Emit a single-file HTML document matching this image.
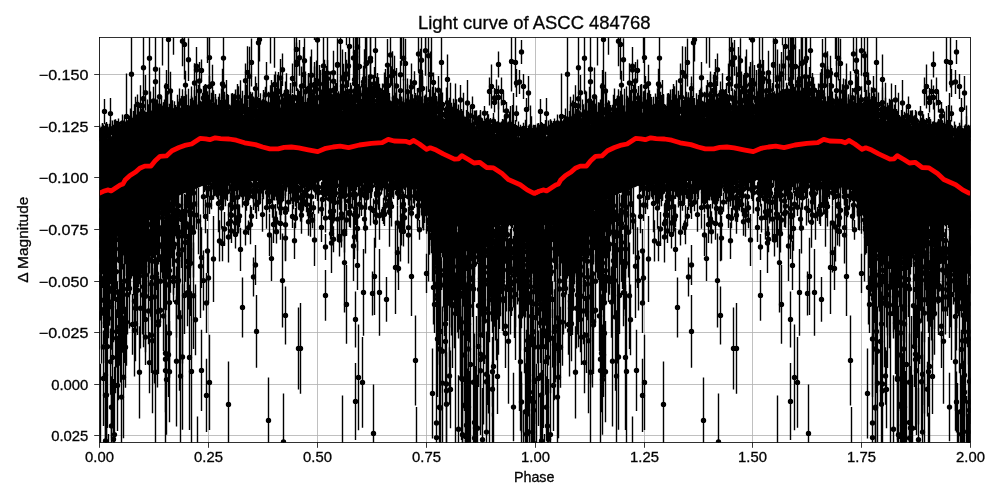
<!DOCTYPE html>
<html><head><meta charset="utf-8"><title>Light curve of ASCC 484768</title>
<style>
html,body{margin:0;padding:0;background:#fff;}
body{width:1000px;height:500px;overflow:hidden;font-family:"Liberation Sans",sans-serif;}
svg{display:block;}
text{font-family:"Liberation Sans",sans-serif;fill:#000;stroke:#000;stroke-width:0.3px;}
</style></head><body>
<svg width="1000" height="500" viewBox="0 0 1000 500">
<rect width="1000" height="500" fill="#fff"/>
<defs>
<clipPath id="ax"><rect x="99.5" y="37.5" width="871" height="405"/></clipPath>
<path id="pol" d="M97 139 99.5 139 102 138.8 104.5 138.5 107 138.3 109.5 138 112 137.6 114.5 137.1 117 136.6 119.5 136.1 122 135.6 124.5 135.1 127 134.6 129.5 134.1 132 133.6 134.5 133.1 137 132.5 139.5 131.9 142 131.3 144.5 130.7 147 130.1 149.5 129.5 152 128.9 154.5 128.3 157 127.7 159.5 127.1 162 126.7 164.5 126.2 167 125.8 169.5 125.3 172 124.9 174.5 124.5 177 124 179.5 123.6 182 123.2 184.5 122.7 187 122.3 189.5 121.8 192 121.4 194.5 121 197 120.5 199.5 120.1 202 119.9 204.5 119.9 207 119.8 209.5 119.7 212 119.6 214.5 119.6 217 119.5 219.5 119.4 222 119.3 224.5 119.3 227 119.2 229.5 119.1 232 119 234.5 119 237 118.9 239.5 118.8 242 118.7 244.5 118.7 247 118.6 249.5 118.5 252 118.4 254.5 118.4 257 118.3 259.5 118.2 262 118.1 264.5 118.1 267 118 269.5 117.9 272 117.8 274.5 117.8 277 117.7 279.5 117.6 282 117.5 284.5 117.5 287 117.4 289.5 117.3 292 117.2 294.5 117.2 297 117.1 299.5 117 302 116.9 304.5 116.8 307 116.8 309.5 116.7 312 116.6 314.5 116.5 317 116.4 319.5 116.3 322 116.3 324.5 116.2 327 116.1 329.5 116 332 115.9 334.5 115.8 337 115.8 339.5 115.7 342 115.6 344.5 115.5 347 115.4 349.5 115.3 352 115.3 354.5 115.2 357 115.1 359.5 115 362 115 364.5 114.9 367 114.9 369.5 114.8 372 114.8 374.5 114.8 377 114.7 379.5 114.7 382 114.6 384.5 114.6 387 114.5 389.5 114.5 392 114.5 394.5 114.4 397 114.4 399.5 114.3 402 114.3 404.5 114.3 407 114.2 409.5 114.2 412 114.1 414.5 114.1 417 114 419.5 114 422 114.3 424.5 114.7 427 115 429.5 115.4 432 115.8 434.5 116.2 437 116.5 439.5 116.9 442 117.7 444.5 118.6 447 119.5 449.5 120.3 452 121.2 454.5 122.1 457 123 459.5 123.8 462 124.6 464.5 125.3 467 126.1 469.5 126.8 472 127.6 474.5 128.3 477 129.1 479.5 129.8 482 130.5 484.5 131.1 487 131.8 489.5 132.4 492 133 494.5 133.6 497 134.2 499.5 134.9 502 135.2 504.5 135.5 507 135.8 509.5 136.1 512 136.4 514.5 136.7 517 136.9 519.5 137.2 522 137.5 524.5 137.8 527 138.1 529.5 138.4 532 138.7 534.5 138.9 537 139 L537 225 534.5 225 532 225 529.5 225 527 225 524.5 225 522 225 519.5 225 517 225 514.5 225 512 225 509.5 225 507 225 504.5 225 502 225 499.5 225 497 225 494.5 225 492 225 489.5 225 487 225 484.5 225 482 225 479.5 225 477 225 474.5 225 472 225 469.5 225 467 225 464.5 225 462 225 459.5 225 457 225 454.5 225 452 225 449.5 225 447 225 444.5 225 442 225 439.5 225 437 225 434.5 225 432 225 429.5 220 427 215 424.5 207.5 422 200 419.5 193.5 417 187 414.5 184 412 181 409.5 181 407 181 404.5 180.9 402 180.9 399.5 180.9 397 180.9 394.5 180.8 392 180.8 389.5 180.8 387 180.8 384.5 180.8 382 180.7 379.5 180.7 377 180.7 374.5 180.7 372 180.6 369.5 180.6 367 180.6 364.5 180.6 362 180.6 359.5 180.5 357 180.5 354.5 180.5 352 180.5 349.5 180.4 347 180.4 344.5 180.4 342 180.4 339.5 180.4 337 180.3 334.5 180.3 332 180.3 329.5 180.3 327 180.2 324.5 180.2 322 180.2 319.5 180.2 317 180.2 314.5 180.1 312 180.1 309.5 180.1 307 180.1 304.5 180 302 180 299.5 180 297 180.1 294.5 180.1 292 180.2 289.5 180.2 287 180.3 284.5 180.3 282 180.4 279.5 180.5 277 180.5 274.5 180.6 272 180.6 269.5 180.7 267 180.7 264.5 180.8 262 180.8 259.5 180.9 257 181 254.5 181 252 181.1 249.5 181.1 247 181.2 244.5 181.2 242 181.3 239.5 181.3 237 181.4 234.5 181.5 232 181.5 229.5 181.6 227 181.6 224.5 181.7 222 181.7 219.5 181.8 217 181.8 214.5 181.9 212 182 209.5 182.2 207 183.5 204.5 184.8 202 186 199.5 187.2 197 188.2 194.5 189.2 192 190.2 189.5 191.2 187 192.2 184.5 193.2 182 194.2 179.5 195.3 177 196.8 174.5 198.3 172 199.8 169.5 201.4 167 203.4 164.5 205.4 162 207.4 159.5 209.6 157 212.3 154.5 215.1 152 217.8 149.5 220.2 147 221.5 144.5 222.8 142 224 139.5 225 137 225 134.5 225 132 225 129.5 225 127 225 124.5 225 122 225 119.5 225 117 225 114.5 225 112 225 109.5 225 107 225 104.5 225 102 225 99.5 225 97 225Z" fill="#000"/>
<g id="c0" fill="none" stroke="#000"><path d="M207.5 229V273M213.5 216V302M203.5 250.6V310.6M208.5 253V303M240.5 227.8V271M253.5 257.5V296.5M242.5 277.4V337.4M256.5 295V367.8M271.5 236.2V281M282.5 233.6V327.6M285.5 286.4V344.4M298.5 307.4V389.4M325.5 234V260M325.5 270V320.8M344.5 212.6V312.6M357.5 240.8V290M346.5 265V343.8M355.5 291.4V347.4M372.5 271.4V315.4M374.5 237.8V315M379.5 249V335.8M386.5 277.1V321.7M397.5 232.6V272.6M395.5 220.8V314M411.5 236.8V316M426.5 253.8V293M433.5 250.4V324.4M434.5 275.8V333M353.5 211V281M201.5 329.8V411M209.5 334.8V430M228.5 361.4V445.5M268.5 377.4V445.5M283.5 393.4V445.5M197.5 416.4V445.5M342.5 395.4V445.5M362.5 337V427.8M355.5 362.9V439.9M373.5 384.4V445.5M415.5 315.4V405.4M432.5 348.4V438.4M416.5 407V445.5M441.5 37.4V87.4M447.5 54.4V104.4M460.5 85V115M467.5 80V126M498.5 51.4V77.4M511.5 34.5V91.4M515.5 37.4V87.4M521.5 40V64M489.5 77.4V105.4M491.5 64.4V108.4M496.5 79.4V103.4M501.5 77.4V105.4M494.5 88V108M498.5 85.4V109.4M494.5 92.4V112.4M503.5 92.4V112.4M506.5 102V120M506.5 108V124M516.5 69V97M516.5 105.6V121.6M526.5 100.4V118.4M126.5 73.4V159.4M194.5 63.2V102.8M200.5 103.3V126.5M418.5 36.9V70.9M362.5 97V120.2M414.5 113.3V130.9M246.5 85.1V109.1M342.5 69.3V102.9M316.5 101.1V116.8M300.5 117.4V132.1M428.5 106.7V123.8M268.5 119.8V133.1M374.5 67.1V100.5M309.5 86.9V112.4M344.5 111V119M294.5 62.6V105.5M155.5 54.3V109M209.5 117.6V137.3M430.5 51.4V97.5M317.5 115.7V131.5M138.5 104.1V136.5M230.5 111.1V125.7M177.5 119.6V138.8M206.5 122.1V132.9M190.5 116.3V132.5M299.5 39.9V75.7M173.5 34.5V54.8M296.5 34.5V79.1M314.5 103.2V125.5M192.5 112.6V125.3M214.5 118.3V129M355.5 88V110.7M421.5 34.5V89.8M386.5 84.2V109.2M428.5 117V127.6M314.5 85V110.9M348.5 45.1V87M383.5 112.3V126.6M377.5 96V113M439.5 118.1V135.7M349.5 103.6V119.4M331.5 105.8V133.3M292.5 101.6V118.5M390.5 34.5V84.6M323.5 94.2V116M366.5 36.6V90.5M364.5 105.6V122.7M379.5 95V112.3M360.5 105.4V122.8M296.5 34.5V90.9M438.5 108.8V131.6M358.5 117.4V129.8M363.5 65.7V98.2M373.5 75.1V104.6M353.5 88.6V117.1M340.5 34.5V82M314.5 34.5V39.9M188.5 38.3V81M404.5 108.8V130.8M395.5 92.7V108.2M298.5 111.5V129.4M359.5 99.3V112.8M218.5 101.4V129.9M327.5 37.2V109M372.5 112.2V132.7M377.5 73.9V105.5M397.5 108.9V119.3M282.5 93.9V126.3M308.5 114.7V131.4M170.5 71.8V110.2M251.5 93.8V123M293.5 99.2V122.3M438.5 76.1V104.5M203.5 86.1V109.9M298.5 116.7V132M426.5 100V117.8M375.5 34.5V78M367.5 87.3V122.6M194.5 117.9V132.7M355.5 34.5V80.3M321.5 116V126.7M158.5 114.2V136.3M369.5 96.9V112.8M321.5 107.9V129.1M162.5 34.5V65.5M247.5 46.2V98.7M435.5 118.3V135M170.5 120.9V140.1M287.5 115V127.8M318.5 114.6V134.4M413.5 100.2V117.3M274.5 34.5V67.8M215.5 94.1V122.1M149.5 34.5V51.8M389.5 106.5V126.5M314.5 100.5V123.1M411.5 63.6V110.1M358.5 83.9V118.2M433.5 111.2V133.6M282.5 53.5V86.1M433.5 72.5V92.5M202.5 116.3V129.5M276.5 88.5V110.6M408.5 106.9V130.8M367.5 92.7V112.8M365.5 95.2V119.7M144.5 122.1V145.2M212.5 121.8V132.7M182.5 96.9V125.1M319.5 65.1V102.7M335.5 79.6V111.9M189.5 124.2V137.1M328.5 93V118.8M157.5 100.8V120.8M275.5 94.7V132.5M303.5 47.1V102.1M253.5 119.7V133.3M281.5 121.3V133.1M405.5 38.8V87.9M370.5 34.5V91.5M267.5 115V126.7M426.5 86.2V113.3M240.5 118.6V133.6M362.5 113.3V121.5M223.5 110.2V125.3M196.5 113.6V131M253.5 96.5V109.9M175.5 114.4V135.4M155.5 36.2V102.2M355.5 87.1V105.8M292.5 109.1V125.5M292.5 103.2V122.6M285.5 81.4V107.9M209.5 90.6V117M247.5 103.5V115.4M400.5 34.5V58.9M387.5 39V91.2M163.5 119.9V142.8M256.5 83.1V115.7M394.5 103.8V132.8M428.5 104.3V125.9M147.5 126.5V147.6M366.5 116.5V125.7M275.5 71.4V98.4M304.5 107.6V132.8M303.5 119.8V134.9M396.5 67.9V103.8M259.5 34.5V61.5M234.5 97.2V112.9M206.5 111.9V123.2M165.5 118.7V139.2M151.5 130.1V148M299.5 112.8V131.6M316.5 109V132.7M353.5 35.8V80M423.5 108.8V134.2M189.5 113.3V131.1M242.5 122.2V134.1M255.5 107.6V123.1M323.5 88V142.2M226.5 95.3V114.6M357.5 95.8V116.5M333.5 58.2V104.4M401.5 97.3V116.6M143.5 132V151.5M376.5 76.7V105.7M311.5 110.5V127.3M311.5 49.5V100.9M221.5 102.2V113.7M370.5 71.5V108.6M398.5 108V119.7M317.5 34.5V81.5M287.5 89.4V112.3M159.5 67.4V126.3M263.5 120.4V136.8M200.5 107.6V125.2M149.5 34.5V94.3M129.5 115.8V147.9M342.5 49.6V105.7M333.5 88.3V109.3M431.5 113.2V135.6M346.5 59.8V88.2M290.5 108.6V123.7M294.5 119.7V133.5M213.5 95.3V118.7M167.5 94.4V125.1M266.5 61.9V93.7M151.5 127.8V144.4M357.5 35.2V100M321.5 118.4V132.8M150.5 121.6V139.9M292.5 93.7V115M392.5 51.2V92.4M274.5 106.8V126.2M140.5 119.5V146.4M350.5 110V121.3M314.5 66.5V115.9M355.5 34.5V83.7M321.5 117.8V132.7M379.5 83.8V96.8M173.5 112.1V127.6M394.5 100.8V121.4M156.5 99.5V126.2M294.5 34.5V64.9M322.5 100.9V116.7M231.5 113V134M215.5 102.9V121.5M373.5 76.8V111.7M377.5 107V125.1M310.5 56.6V115M364.5 49.3V107.8M230.5 108.4V122M401.5 34.5V65.7M229.5 109.7V124.8M235.5 120V138M308.5 75V101.9M143.5 84.7V112.8M360.5 117.8V131.8M199.5 80.1V101.7M287.5 90.7V110.1M294.5 100.3V117.1M145.5 74.9V110.5M344.5 101.6V125.6M256.5 91.1V110.6M430.5 114.2V127.8M241.5 99.9V115.3M341.5 114.4V130.4M322.5 108.5V124M325.5 73.3V112.3M280.5 59V96.8M258.5 34.5V97.4M333.5 50.8V94.7M326.5 73.8V112.1M316.5 100.3V131.6M363.5 75V96M370.5 90.9V114M356.5 35.1V96M245.5 63.6V98M417.5 95.6V115.4M143.5 101.7V130.9M301.5 66.4V105.7M424.5 101.2V113.8M370.5 52.9V100.8M370.5 95.7V122.8M403.5 106.2V116.9M355.5 34.5V95.8M365.5 115V130.3M146.5 120.2V147.6M418.5 116.7V129.5M354.5 93.7V120.7M281.5 80.7V123.1M178.5 111.1V132.1M403.5 36V80.5M400.5 110V133.5M419.5 98.8V117M253.5 100.6V116.8M276.5 109.6V124M154.5 107.5V127.5M363.5 87.6V114.9M146.5 132.9V146M295.5 102.9V122.6M414.5 112.9V128.9M383.5 110.7V125.6M306.5 106.5V127M190.5 111.6V131.4M143.5 34.5V116.3M321.5 89.6V107.6M184.5 106.4V123.9M140.5 85.3V125.4M168.5 34.5V94.5M209.5 34.5V83.4M380.5 96.4V107.5M147.5 99.6V130.5M156.5 120.9V136.3M213.5 101.2V115M303.5 116V130.7M240.5 106V122.3M265.5 106.3V132M392.5 105.3V125.4M480.5 109.9V130.2M103.5 129.8V140.9M222.5 100V126M534.5 125.8V141.2M327.5 106V126.3M307.5 100.3V117.8M359.5 96.9V118.7M344.5 101.2V116.3M453.5 105.3V128.3M351.5 95.8V124.8M211.5 111.8V128.3M485.5 119.2V132.2M117.5 124.9V140.5M328.5 104.9V133.7M503.5 119.9V134.1M387.5 101.5V121.3M218.5 111.7V133M369.5 103.7V121.3M520.5 124.8V140.1M122.5 125.5V139.2M219.5 103.7V126.4M110.5 119.9V137.9M177.5 104.8V126.8M530.5 136.2V149.2M344.5 106.9V126M205.5 101.9V127.2M287.5 92.6V115.1M163.5 105.3V134.5M150.5 113.1V140.9M201.5 101.4V116M117.5 122.8V135.4M145.5 111.4V138.3M252.5 103.8V118.5M279.5 108.5V130.8M237.5 105V126.4M283.5 105.2V124M203.5 104.8V121.6M283.5 97.6V116.2M424.5 99.4V124M344.5 100.9V116.1M334.5 99.2V122.8M395.5 97.7V116.8M284.5 90.3V117.7M197.5 104.5V134.2M150.5 113.8V138.6M185.5 99.2V115.2M191.5 104.4V128.9M316.5 103.8V118.5M197.5 104.6V125.9M232.5 97.3V122.6M420.5 90.6V120.3M211.5 111.7V139.8M154.5 101.7V127.3M506.5 124.2V143.4M362.5 98.9V113.5M133.5 118.2V137.4M511.5 121.7V130.6M515.5 126V137.1M109.5 125.4V137.9M262.5 99.3V123.7M106.5 129.6V138.5M262.5 99.4V114.1M333.5 94.6V124.5M312.5 103.6V127.9M482.5 120.9V134.2M472.5 116.6V134.8M501.5 124.2V136.9M174.5 101.3V125.5M470.5 119.4V131.3M392.5 89.3V119.2M374.5 111.5V125.8M234.5 97.5V122.3M430.5 97.9V114.6M297.5 88.2V109.9M150.5 112.8V140.8M332.5 94.5V109.1M376.5 93.8V118.6M149.5 109.4V135.5M359.5 96V124.4M378.5 98.4V120.3M510.5 128.2V141M352.5 97.1V122M439.5 97V118.5M436.5 103.7V119.6M452.5 113.7V133.1M389.5 93.1V113M109.5 123.8V138.7M131.5 119.8V133.3M371.5 90.6V119M326.5 108.8V127.8M422.5 104.1V121.9M373.5 111.6V126.5M144.5 110.6V129.2M442.5 110.2V138.9M216.5 100V128.9M485.5 120.2V138.6M226.5 102.4V125.9M296.5 115.4V135.1M108.5 128.8V143.6M247.5 99.6V124.3M241.5 108.7V126.8M288.5 103.3V120.7M182.5 108.6V132.5M379.5 105.6V131.9M224.5 113.4V135.9M182.5 101.5V125.3M165.5 115.4V132.8M101.5 128.1V141.3M216.5 99.3V127.7M488.5 114.3V133.8M250.5 101.5V131.4M351.5 94.5V117.9M102.5 129.4V142.7M329.5 105.2V120M179.5 111.1V125.5M409.5 99.5V128.9M195.5 109.5V128.5M166.5 114.7V130.8M339.5 104.3V120.1M531.5 123.2V137.2M527.5 130V141.6M378.5 97.7V124.3M141.5 114.3V135.9M510.5 124.2V133.6M237.5 105.6V123.7M446.5 100.1V119.5M441.5 94V123M526.5 127.8V138.6M316.5 92.6V122.5M438.5 110.6V136M225.5 99.8V120.6M332.5 104.9V120.2M282.5 95.8V123M258.5 99.9V124M328.5 100.9V122.3M336.5 109.6V129.1M166.5 116.2V139.2M346.5 98.3V114.2M135.5 111.4V126M228.5 94.9V119.4M312.5 104.4V130.7M493.5 113.1V129.3M436.5 96.9V124.5M189.5 105.6V130.2M392.5 96.8V121.3M478.5 120.6V133.6M278.5 99.1V124.6M366.5 101.8V117.1M423.5 103.9V124M346.5 92.6V114.3M379.5 90V115.1M106.5 122V140M142.5 105.9V133.4M105.5 127.1V143.1M449.5 105.6V123.8M435.5 99.2V125.1M488.5 126.1V140M100.5 128V137.6M445.5 106.4V124.4M237.5 108V124.7M202.5 100.7V127.9M424.5 102.6V123.6M327.5 99.7V129.3M455.5 107.3V130.2M128.5 122.6V140.3M450.5 104.1V130.6M494.5 121.8V139.2M323.5 102.2V117.2M167.5 123.5V139.8M511.5 129V139.1M310.5 117.8V135M301.5 98.3V120M506.5 119.7V134.5M448.5 104V125.1M487.5 124.1V139.9M390.5 113.1V127.5M348.5 90.8V105.4M294.5 92.2V121M372.5 95.8V116.7M332.5 99.7V116.8M232.5 110.5V134.5M369.5 105V119.9M147.5 113.4V133.4M142.5 107.6V134M244.5 95.2V123.2M461.5 109V126M117.5 126.8V137.6M317.5 99.4V126.2M217.5 107.9V125.8M251.5 109.1V126.3M434.5 92.7V113M335.5 100.2V123M126.5 128.4V144.6M116.5 122.6V138.9M466.5 110V128.5M115.5 126.5V140M288.5 94V121.6M102.5 129.4V138.1M384.5 103.7V117.9M403.5 101.3V127.1M282.5 100.4V129M294.5 87.1V107.5M100.5 130.4V141.9M140.5 124.7V139.5M523.5 127.2V144.3M164.5 103.3V127.6M320.5 99.4V118.4M137.5 117.3V133.3M340.5 100V115M113.5 133.3V143M508.5 122.9V136.2M163.5 109.2V127.8M297.5 100.8V126.3M288.5 94.6V118.5M247.5 106.3V133.9M459.5 110.3V126.9M175.5 113.3V141.1M377.5 100.4V120M324.5 101.9V120.8M299.5 92.4V121.7M252.5 97.2V125.7M430.5 102.7V123.1M350.5 93.2V118.7M462.5 111V130.4M394.5 90.2V117M439.5 93.2V113.2M429.5 106.7V124.3M158.5 119.1V143M284.5 95.5V120.3M249.5 101.7V128.9M221.5 110.4V124.8M381.5 102.8V119M515.5 124.8V136.1M289.5 99V128.6M343.5 104.8V126.5M115.5 119.2V138.8M328.5 110V124.5M525.5 125.4V141.7M122.5 114.6V131.4M138.5 109.6V133.9M382.5 98.7V117.3M192.5 99.4V129.3M305.5 90V118.8M105.5 125.6V136.7M139.5 113.8V132.8M141.5 115.2V138.7M479.5 119.6V132.7M137.5 107.7V132.5M515.5 120.1V134.9M462.5 116.7V134.3M413.5 98.3V120.6M395.5 99.5V115.2M470.5 121V137.2M168.5 114.6V137.7M233.5 107.4V124.2M266.5 101.2V124.4M329.5 100.3V124.5M113.5 125.2V141.5M215.5 113.7V132.6M268.5 101.4V130.4M505.5 124.6V143.8M221.5 96.7V119.5M123.5 125.4V135.5M163.5 102.2V127.9M486.5 117.8V132.1M149.5 110.3V127.9M480.5 119.6V129.4M386.5 77V106.9M403.5 98.5V123.6M311.5 104V126.3M289.5 106.9V130.4M377.5 88.8V112.7M362.5 93.2V109.7M238.5 97.3V126.3M238.5 96.4V122M125.5 122.8V139.4M339.5 115.5V140.2M180.5 111V127.6M173.5 108.8V137.2M164.5 112.7V136.3M334.5 107.1V121.6M135.5 124.2V141.6M330.5 100.3V122M102.5 125.4V137.4M130.5 114.1V128M505.5 115.7V133M186.5 112V137.8M455.5 99.8V124.8M299.5 102V122.6M273.5 112.8V127.2M388.5 100.5V116.1M287.5 107.2V125.2M102.5 132.8V145.4M166.5 104.1V130.3M308.5 104.7V121.6M327.5 101.8V120.6M381.5 93.7V120.7M218.5 96.7V118M327.5 99.5V116.2M118.5 129.2V148.6M157.5 117.1V141.9M237.5 94V120.9M131.5 116.2V132.6M507.5 128.3V144M194.5 97.9V126.3M238.5 102.4V123.5M397.5 103.1V127.2M114.5 129.4V145.7M236.5 99.7V125.1M140.5 108.1V136.2M143.5 118.3V143.2M153.5 101.8V129M385.5 107.1V127.1M331.5 93.2V119.4M533.5 124.8V139M382.5 94.9V119.9M368.5 90V110.2M125.5 121.4V137.3M505.5 124.4V139.7M363.5 97.6V123.3M305.5 94.8V115.3M523.5 128.8V144M241.5 105.7V128M179.5 111.5V127.6M132.5 124.2V148.2M122.5 127V142.6M273.5 99.6V126.2M326.5 97.2V119M172.5 105.3V119.9M137.5 115.3V140.1M175.5 104.9V126.7M502.5 122.2V141.7M345.5 92.9V113.4M466.5 118V134.8M371.5 101.9V123.8M352.5 100.2V121.3M481.5 121.1V141.1M425.5 94.4V115.6M439.5 104.9V119.2M512.5 120V137.1M249.5 96.8V124.3M332.5 103.1V122.6M263.5 94.9V116.3M493.5 121.2V139.2M460.5 106.7V129.3M237.5 102.4V123.9M252.5 102.7V130.8M370.5 108.2V122.8M257.5 110.1V132.9M344.5 91.8V110.7M487.5 111.1V130.9M415.5 93.1V117.2M309.5 103.9V128.7M167.5 114.7V130.5M131.5 123.2V139.9M496.5 125.3V134.9M428.5 103.3V129.6M136.5 122.5V144.8M440.5 103.9V126.9M213.5 107.2V126M102.5 123.5V137.8M116.5 120.7V137.9M365.5 96V123.5M209.5 102.7V130M317.5 86.2V108.3M495.5 121.3V131.4M317.5 109.1V126.2M303.5 99.1V124.3M462.5 112.3V126.8M300.5 99.1V118M415.5 105.6V120.5M211.5 102.3V130.6M447.5 92V113.3M262.5 100.9V124.4M365.5 90.6V106.2M259.5 106.8V131.6M308.5 106.4V133.4M377.5 104.4V125.9M317.5 106.3V131.7M194.5 100.9V125.5M187.5 105.1V132.9M522.5 128.6V140.2M169.5 118V143.6M450.5 100.7V119.2M142.5 111.9V129M273.5 103.2V119.8M208.5 96.9V115M223.5 100V126.8M534.5 129.9V140.2M374.5 95.2V117.6M172.5 104.2V131.2M278.5 107.9V123.9M275.5 99.3V125.6M180.5 109.2V127.2M386.5 99V121.4M263.5 105.5V125.6M311.5 107.1V133.3M487.5 121.4V138.2M417.5 88.1V107.5M370.5 92.4V120.6M372.5 97.4V124M150.5 102.9V130.6M527.5 127.9V145.3M129.5 122.9V135.4M105.5 123.5V133.6M422.5 97.2V115M406.5 98.4V118.4M454.5 104.9V129.5M256.5 98.5V113.8M297.5 88.8V107.1M179.5 88.4V169.9M382.5 89.9V157M300.5 92.5V148.2M206.5 84.8V153.5M328.5 82.3V155.7M410.5 79.2V163.1M137.5 100.5V174M191.5 86.5V153.3M363.5 84.4V149.6M433.5 91.1V140.1M314.5 97.8V134.9M474.5 119V158.7M346.5 94.6V144.5M240.5 98.6V160.7M463.5 92.8V175.4M234.5 95.9V154.9M259.5 98V144M299.5 96.6V148.4M433.5 88.1V163.4M384.5 102.2V136M462.5 110.8V144.2M279.5 95.5V142.1M526.5 98V175.7M148.5 104.2V168.7M371.5 98.7V149.8M505.5 122V164.8M135.5 96.8V170.6M378.5 77.3V148.6M159.5 96V179.6M405.5 83.7V163.3M377.5 73V156.5M330.5 95V158.5M160.5 103.8V166.9M290.5 89.1V158.3M310.5 86.7V162.5M141.5 108.9V159.5M407.5 84.3V162.2M316.5 90V157.1M196.5 81.1V161.8M182.5 95.4V161.3M333.5 90.7V148.4M311.5 102.5V142.8M267.5 102.5V145.8M171.5 91.2V154.7M237.5 89.1V144.1M450.5 82.8V164.8M379.5 86.8V147.2M422.5 104.9V136.5M390.5 102.5V134.5M429.5 97.1V140.2M202.5 92.7V149M131.5 118.4V167.3M338.5 92.2V147.8M486.5 119.1V160.6M273.5 99V157M422.5 76.4V149.5M185.5 99.2V145.5M226.5 95.1V154M368.5 88.1V159.8M362.5 84.7V140.8M432.5 98.8V152.3M284.5 90.6V150.8M130.5 108.4V161.4M206.5 98V160M199.5 97.9V152M213.5 93.5V157.7M267.5 111.5V141.1M198.5 85V157.2M338.5 92.4V157.4M359.5 105.3V135.3M441.5 86.9V155.6M235.5 89.6V165.4M430.5 102.4V138.2M360.5 86.2V155.7M157.5 104.5V169M251.5 100.3V136.4M161.5 96.2V176M230.5 107.7V135.9M300.5 92.9V158.2M531.5 116.3V166.6M386.5 86.2V157.5M164.5 108.3V141.7M272.5 85.4V158.5M333.5 89.3V138.5M394.5 83V147.4M224.5 101.8V134.5M372.5 98.6V127.2M334.5 87.4V147.1M255.5 86.1V160.7M385.5 83.9V153.7M185.5 90.8V165.3M265.5 88.4V143M509.5 111.5V161.2M290.5 182.9V196.2M256.5 189.8V219M234.5 169.9V195M349.5 200.6V227.1M373.5 198.5V222.5M269.5 213.7V256.1M339.5 226V254.2M263.5 170.3V183.6M331.5 159V198.1M345.5 173V189.2M253.5 174.7V210M398.5 166.5V200M300.5 176.4V188.6M344.5 161.9V192.4M337.5 196.8V241.4M355.5 192.5V225.1M400.5 192.5V261.5M302.5 168.5V203M277.5 179.5V199.8M335.5 168.2V186M272.5 195.9V217.8M238.5 208.5V233.4M353.5 172.9V193.1M330.5 195.3V239.6M245.5 219.1V245.5M400.5 184.1V209M388.5 192.8V214.7M278.5 177.4V197.1M415.5 167.7V194.5M302.5 183.3V212.4M267.5 175.7V200.4M400.5 174.5V206.9M253.5 163.2V189.7M269.5 190.7V212.4M401.5 176.2V188.9M273.5 206.1V242.9M414.5 184.2V208M419.5 219.9V239.7M232.5 176.2V195.4M340.5 178.7V214.6M356.5 168.2V185M245.5 181.6V225M371.5 168.3V193.7M249.5 180.2V200.2M229.5 173.4V188.9M336.5 173.8V197.1M250.5 205.3V244.3M306.5 173.1V182.9M404.5 204.6V231.1M250.5 166.7V190M307.5 175.4V216.3M285.5 188.2V261.2M382.5 207.1V221M407.5 171.2V188.2M219.5 220.2V261.6M384.5 173.9V193M403.5 191.5V217.1M417.5 204.6V227.9M318.5 172V213.5M370.5 167.3V186.7M389.5 164.1V189.7M262.5 197.3V231.8M359.5 171.3V190.1M397.5 180.5V205.1M332.5 171.8V194.3M414.5 178.7V194.3M390.5 173.3V186M300.5 194.3V221.4M371.5 171.4V183.6M261.5 178V190.4M274.5 174.7V200.4M350.5 184.5V227.7M267.5 164.8V187.8M308.5 207.8V235.7M402.5 178.4V193.2M304.5 182.1V202.8M325.5 182.3V206.5M218.5 174.5V232.2M393.5 178.8V197.1M223.5 167.3V190.3M370.5 181.3V198.7M272.5 176V188.6M332.5 196.5V233.6M378.5 166.6V192.5M259.5 180.7V202.2M240.5 177.1V191.8M318.5 181.9V192.5M232.5 181.9V197.1M277.5 179.6V208.5M285.5 196.4V228.1M384.5 169.5V189.7M301.5 196.6V233.7M315.5 169.7V190.9M333.5 226.3V252.2M234.5 181.1V233.5M418.5 189.7V220.4M222.5 185.9V208.5M369.5 173.2V193.1M271.5 174.7V202.3M230.5 204.8V238.2M339.5 216.3V256.6M313.5 167.6V191.3M285.5 194.2V223.5M344.5 173.3V201.6M359.5 191.1V217.4M223.5 177.7V201M288.5 192.6V211.7M225.5 177.3V198.3M290.5 170.2V184.7M262.5 180.7V194M253.5 183.4V209.5M222.5 186.9V208.2M411.5 187.4V238.9M397.5 205.3V240.4M402.5 179.6V192.7M409.5 178.8V195.2M269.5 176.6V206.2M369.5 171.2V191.8M405.5 172V197.9M390.5 162.8V207.9M276.5 211.3V233M383.5 170.3V182.9M332.5 188.2V213.6M293.5 189.2V209.3M276.5 220.2V243.4M385.5 195.4V216.6M280.5 207V239.7M346.5 203.9V236.1M279.5 180.1V200.6M275.5 204V233.7M334.5 179V192.9M377.5 178.9V195.1M281.5 179.5V215.3M341.5 186.1V241.8M376.5 179.1V207.5M280.5 185.2V215.2M275.5 184.7V196.8M234.5 167.9V200.8M356.5 202V229.5M313.5 201.3V214.2M330.5 194.7V228.7M339.5 194.4V209.7M298.5 187.7V207.9M255.5 162.4V213.3M237.5 187V207.4M356.5 191.7V241.7M355.5 185.5V204.2M310.5 193.5V236.8M306.5 196.6V212.2M297.5 174.4V200.5M266.5 186.4V228.8M344.5 218.1V244.9M276.5 165.8V190.7M230.5 199.9V229.6M329.5 180.9V217.2M356.5 172.1V189.8M278.5 166V184.7M420.5 172.7V198.4M281.5 162.7V184.8M351.5 176.6V190.8M329.5 158.1V188M227.5 182.5V201.1M247.5 170.8V192.3M269.5 175.6V192.3M279.5 177.5V203.7M376.5 158.1V181.1M208.5 180.9V196.8M420.5 174.6V192.4M333.5 180V196.1M340.5 182.7V210.8M286.5 173.2V187.9M364.5 182.7V208.5M306.5 168.7V194M415.5 169.5V185.2M368.5 168.9V197.6M213.5 176.5V192M385.5 164.1V179.8M384.5 173.2V198M231.5 176.3V202.4M237.5 171.6V188.4M260.5 181.3V200.7M392.5 174.2V197.4M220.5 183.6V202M262.5 169.7V192M244.5 171.4V193.7M275.5 174.5V193.9M389.5 192.7V208.4M358.5 176.1V192.9M330.5 190.2V204.4M367.5 170.2V192.4M377.5 181.2V197.6M286.5 172.8V191.7M237.5 170.4V197M280.5 175.8V198M283.5 174.7V201.2M349.5 170.7V199.1M227.5 168V184M214.5 169.6V196.2M249.5 173.1V193.9M352.5 177.4V199.8M335.5 164.9V190.5M276.5 171.8V200.6M340.5 169.2V186.6M312.5 171.9V189.7M378.5 175.7V200.8M246.5 174.1V195.5M335.5 182.7V203.8M217.5 178.1V195.8M342.5 169V187.2M262.5 180.1V197.1M409.5 179.3V205.3M217.5 166.1V182.5M365.5 167.1V187.8M217.5 172V191.7M273.5 171.3V200.2M240.5 164.9V192.4M383.5 165.8V185.8M283.5 167.6V193M323.5 176.7V197.7M378.5 163.9V185.3M280.5 174.6V200.8M233.5 172.2V200.9M294.5 172.5V198.1M250.5 165.6V189.2M245.5 174.8V192.7M400.5 178.1V193.6M362.5 172.3V189.8M232.5 185.4V207.7M415.5 169.3V191.6M417.5 172.5V197.9M246.5 172.5V192.4M216.5 167.7V197.2M417.5 171.5V189.9M355.5 162V191.4M239.5 176.9V191.8M218.5 175.3V199.8M318.5 168.9V189M272.5 161.2V185.6M263.5 164.2V190.3M290.5 179.3V199.2M342.5 171.7V190M330.5 180.1V206.9M272.5 177.6V197.5M264.5 159.5V187.6M381.5 172.2V191.4M379.5 174.9V195.2M407.5 173.1V191.1M271.5 177.3V193.5M333.5 169.3V194M408.5 168.8V195.1M356.5 168.3V190.2M317.5 173.3V200.8M353.5 161.6V184.8M295.5 179.8V206.6M346.5 165.2V194.1M389.5 178.4V201.1M285.5 164.9V193.4M308.5 165V186.1M281.5 160.2V180.4M244.5 165.5V195M263.5 170V199.3M224.5 174.9V194.3M295.5 181.1V196.2M317.5 179.5V201.1M248.5 169.5V187.2M345.5 169.9V195.1M370.5 175.6V190.7M255.5 179.9V194.1M416.5 167.6V189.2M273.5 169.2V191.2M278.5 173.1V199.4M350.5 179.9V194.2M244.5 176V195M217.5 179.4V199.3M246.5 171.1V188.1M355.5 162.6V187.1M375.5 170.7V185M331.5 167.2V194.9M259.5 173.4V193.5M371.5 165.2V192.6M219.5 160.2V181.6M255.5 167.5V187.6M350.5 179.4V197.2M308.5 176.4V191.5M222.5 167.1V186.5M483.5 256.8V358.8M155.5 274.5V445.5M492.5 190V221.4M181.5 196.6V267.9M496.5 200.1V269.4M462.5 203.7V270.4M102.5 206.5V227.7M518.5 186V284.7M150.5 188.4V238.5M478.5 219.7V254.8M191.5 187.3V227M162.5 201.8V260.2M438.5 230.4V345.1M522.5 227.5V274M488.5 199.4V241.6M499.5 231.5V268.5M193.5 169.5V216.4M448.5 224.7V252.2M155.5 190.3V221.6M154.5 187.4V232.5M192.5 181.5V195.2M502.5 258.8V303.8M529.5 206.3V240.9M491.5 206.9V234.9M484.5 227.6V277.8M191.5 189.9V265.4M507.5 247.8V292M440.5 217.9V272.9M454.5 237.3V338.3M107.5 206.3V258.9M132.5 202.2V249.5M459.5 196.2V284.5M531.5 237V270.6M526.5 222.7V280.5M146.5 196.2V221.6M459.5 201.2V239.1M149.5 234.2V273.5M440.5 173.1V233.1M108.5 205.8V286.7M464.5 227.6V301.9M425.5 192.1V216.2M153.5 202.7V258M118.5 228.3V251M445.5 188.2V277.9M493.5 246.1V289.2M138.5 216V246.4M465.5 239.2V284.6M198.5 187.8V254.3M446.5 166.5V240.7M113.5 235.5V281.2M125.5 204V246.2M122.5 283V352.8M168.5 175.2V218M142.5 182.3V224.7M135.5 183.7V221.5M521.5 269.7V311.4M488.5 199.5V232.5M429.5 170.5V235.3M530.5 196.6V260.8M445.5 224.7V344.4M120.5 214.3V307.5M518.5 240.5V272.2M434.5 212.9V268.1M110.5 201V237.6M124.5 280.1V363M181.5 192.6V237.6M468.5 197.5V221M510.5 233V272.9M444.5 199.6V311.6M458.5 204.3V241.4M510.5 196.9V226.2M524.5 248.6V326.5M445.5 220.9V280M462.5 203.7V236M143.5 251.7V280.1M527.5 207.5V247.2M151.5 189.9V234.4M503.5 265.7V335.1M474.5 211.9V241.8M174.5 172.7V207.2M431.5 221.3V253.3M524.5 277.2V339.9M456.5 211.6V285.2M154.5 183.2V233.4M497.5 176V284.4M445.5 208.9V242.1M141.5 201.7V270.6M427.5 176.7V212.2M152.5 256.9V297.7M153.5 182.2V216.7M128.5 227.8V250.2M449.5 188.2V245.9M137.5 245.3V335.1M474.5 241.8V285.9M437.5 261V306.4M479.5 208.5V254.2M190.5 210.4V316.1M518.5 248V289.5M487.5 223.8V266M440.5 191.6V309.2M471.5 190V261.3M172.5 199.5V232.1M473.5 225.5V260.4M513.5 206.9V224.3M163.5 219.6V280.2M461.5 202.6V244M458.5 213V289M123.5 231.9V252M433.5 195.8V233.3M504.5 226.2V279.5M526.5 226.2V264M454.5 261.9V348.2M489.5 230.8V281.6M452.5 213.4V275.1M426.5 193.8V226.6M151.5 297.4V373M482.5 211.3V255.9M439.5 201.1V282M531.5 227.5V296.6M519.5 212.1V261.8M520.5 212.9V264.5M507.5 222.1V276.8M110.5 222V250.5M489.5 223.5V245.8M110.5 211.8V232.9M165.5 199.6V224.6M450.5 182.5V250M433.5 200.7V234.1M513.5 247.8V291.8M120.5 195.7V239.3M456.5 204.7V236.3M441.5 181.1V242.4M137.5 202.4V272.9M157.5 185.8V229.4M116.5 214.2V254.3M101.5 213.4V261.5M532.5 218.1V231.1M447.5 244.2V318.3M468.5 186.5V304.5M169.5 196.5V257M112.5 214.7V234.4M119.5 238.7V281.8M142.5 238.6V304.2M511.5 223.1V276.1M501.5 195V265.9M448.5 190.8V264.7M179.5 225V284.1M105.5 223.9V242.4M459.5 206.8V228M162.5 195.7V228.6M497.5 180.2V230.5M151.5 201V278.9M162.5 189.9V222M439.5 177.8V223.7M118.5 198.4V262.9M458.5 230.6V338.4M106.5 198.7V237.3M511.5 237.3V278.2M470.5 220.3V291.8M148.5 240.1V278M499.5 200.3V240.5M106.5 209.4V246.3M105.5 192.9V225.7M522.5 220.3V270.1M451.5 195.1V223.4M156.5 194.1V254.2M508.5 278.9V403.7M129.5 203.6V262.4M467.5 209.1V225.4M109.5 239.8V267.5M468.5 185.4V269.1M135.5 193.9V276.3M153.5 190.4V215.9M137.5 199.4V243.3M440.5 184.3V237.2M175.5 181V206.7M492.5 197.1V224.5M499.5 202.8V225.2M108.5 206V225.8M114.5 185.9V231.1M476.5 226.9V252.9M103.5 207.9V239.9M124.5 210V234.3M493.5 191V242.6M178.5 193V230.1M139.5 251.7V284.2M120.5 189.6V220.8M136.5 212.6V272.3M532.5 234.7V273.7M443.5 201.9V252.6M494.5 190.5V224.9M473.5 208.8V265.9M521.5 244.4V305.6M104.5 210.6V233.3M107.5 192.6V285.2M125.5 215.2V264.2M451.5 220.5V247M522.5 205.4V227.5M498.5 189.1V221.9M481.5 226.8V270.3M176.5 266.5V337.7M105.5 203.8V222.8M174.5 200.5V287.9M447.5 195.7V229.1M528.5 229.6V284.5M473.5 200.7V250.6M462.5 187.1V276.9M444.5 197.7V243.4M458.5 191.6V222.6M141.5 210.6V244M459.5 232.1V290.7M433.5 183.3V232.5M128.5 187.5V257.9M167.5 196.6V263.6M111.5 226.7V271.8M120.5 202.5V224.7M103.5 260.9V300.6M137.5 216.2V243.6M465.5 223.7V257.7M423.5 163.8V229.9M468.5 255.1V314M176.5 189.5V217.6M115.5 191.3V393.2M491.5 250.8V305.9M447.5 231.7V321M142.5 255.3V334.5M480.5 243.1V314M186.5 208.1V239.4M440.5 184.8V248.5M447.5 207.9V281.7M499.5 202.7V229.4M504.5 229.2V271.3M503.5 219.2V247.8M108.5 203.3V239.3M145.5 209.8V254M444.5 225.9V270.1M445.5 194.4V221.5M426.5 191.7V233.7M452.5 194.7V234.9M439.5 211.9V265.3M173.5 193.2V213M187.5 233.9V289.1M497.5 196.8V233.7M143.5 193.6V228.9M464.5 217.8V296.2M177.5 160V304.6M499.5 204.4V232.9M127.5 199.3V247.7M110.5 192.3V221.4M463.5 202.8V246.3M463.5 201.4V246M522.5 203.9V225.4M108.5 206.5V258.5M453.5 198.1V237.5M465.5 193V236.1M495.5 216.7V246.4M121.5 227.2V269.3M492.5 236V312M504.5 199.8V250.1M516.5 192.3V267.1M134.5 201.1V232.1M169.5 288.6V377.8M514.5 206V338M443.5 176.5V224.9M488.5 214V244.4M472.5 189.5V227.3M511.5 191.6V238M437.5 201.9V258.5M166.5 180.4V231.5M532.5 208.8V245.1M138.5 206.8V259.1M432.5 188.2V225.5M139.5 220.4V255.2M139.5 189.7V226M529.5 216.4V257.8M161.5 195.6V272.6M533.5 299V364.5M452.5 204.7V246.9M500.5 228.7V316.2M461.5 236.1V290.1M451.5 203.1V327.6M495.5 223.8V301.7M498.5 200.7V245.3M144.5 205.7V257.5M148.5 229.2V273.3M122.5 212.7V269.5M515.5 222.1V327.2M502.5 225.9V297.6M490.5 257.5V290.2M155.5 218.6V265.7M510.5 283.4V334.4M147.5 194.6V226.9M438.5 196V230.8M506.5 186V235.5M530.5 214.7V255.5M519.5 201V261.3M478.5 265.2V346.3M522.5 250.1V279.6M455.5 204.8V237.9M502.5 209V256.8M422.5 182.1V216.6M480.5 237.2V291.3M152.5 231.9V290.4M489.5 257.3V342.2M169.5 202.8V246.7M431.5 181.8V251M508.5 239V279.2M462.5 252.8V333.1M189.5 161.1V222.6M491.5 205.4V237.1M196.5 162.3V206.9M491.5 211.4V239.9M481.5 201.4V230.9M533.5 247.1V360.7M138.5 224.8V287M116.5 224.7V235.5M465.5 305.6V338.7M145.5 192.7V291.8M464.5 210.8V247.4M126.5 230.8V263.3M176.5 202V224.3M522.5 196.8V256.7M465.5 214.3V248.2M193.5 187.1V277.4M453.5 217.5V256M509.5 206.6V224.3M515.5 195.5V226.3M473.5 183.8V254.8M522.5 184.1V266M487.5 188.7V226.8M467.5 225.6V256.3M463.5 152.7V263.1M424.5 177.1V223M514.5 185.8V257.3M531.5 284.3V321.8M114.5 233.7V270.8M526.5 199.9V223.7M488.5 215V245.2M489.5 208.8V256.3M514.5 231.4V265.4M481.5 227.4V265.3M465.5 206.8V230.1M439.5 195.9V241M482.5 211.1V241.2M144.5 250.4V320.8M441.5 187.8V222.1M152.5 179.9V235.3M533.5 229.8V267.8M467.5 197.2V256.2M514.5 255.8V295.2M520.5 217.8V268.1M496.5 224V245.8M190.5 184.4V241.1M103.5 330.6V363.1M452.5 243.3V368M178.5 211.1V254.1M103.5 243.5V291.1M483.5 215.3V261.4M205.5 199.5V233.2M112.5 237.8V289.4M137.5 194.7V279.3M141.5 184.8V267.7M478.5 207.2V262.3M503.5 214.8V232.3M524.5 217.3V230.9M521.5 205.3V256.3M511.5 198.7V228.2M435.5 214.2V265.4M151.5 227.2V266.7M433.5 198.2V257.5M439.5 238.5V323.1M470.5 197.6V287.5M175.5 207.4V236.3M476.5 193.4V253.6M117.5 196.8V222.6M111.5 191.2V227.8M184.5 256.9V334.1M184.5 194.1V277.5M161.5 211.8V252.7M440.5 191.8V305M104.5 255.1V288.4M449.5 225.9V268.4M143.5 173.8V253M497.5 195.6V237.2M504.5 235.7V267.8M521.5 244.3V306.3M132.5 213.8V247.8M533.5 208.3V222.7M510.5 275.8V318.1M481.5 200.3V236.3M173.5 209.6V285.2M182.5 136V363.5M438.5 242.4V304.5M527.5 238V292.3M104.5 205.6V232.8M459.5 224.8V289M146.5 205.9V296.1M181.5 195.5V243.2M518.5 221.6V269.2M491.5 243.6V268M443.5 262.5V307.4M462.5 167.9V239M147.5 207.2V240.2M472.5 221.1V270.1M455.5 223.4V258.5M476.5 206.7V249.4M140.5 190.3V250.9M531.5 226.4V251.6M517.5 202.3V228.9M162.5 215.4V278.5M135.5 226.2V306.4M168.5 207.8V229.8M508.5 193.9V226.4M148.5 277.8V344.3M105.5 216.4V259.5M178.5 178.1V233.4M158.5 223.8V264.6M136.5 230.6V289.1M433.5 186.8V243.8M121.5 217.9V250.5M168.5 219.6V349.7M513.5 259.5V307.6M113.5 206V261.3M171.5 177.2V238.2M486.5 191.6V231.2M490.5 200.2V242.8M522.5 233.1V282.1M510.5 228.8V252M113.5 220.8V241.9M515.5 221.1V268.7M446.5 176.4V227.9M140.5 228.8V263.4M459.5 213V259.6M531.5 243.1V270.7M166.5 181.8V229.2M158.5 179.8V222.6M102.5 207.2V231.8M450.5 237.9V269.8M462.5 244.7V283.7M139.5 223.8V265.3M503.5 281.2V316.3M158.5 177.8V229.6M533.5 254.7V328.9M476.5 216.3V236.4M137.5 193.8V238M466.5 215.1V246.7M155.5 204.8V233.6M459.5 263.8V329.6M499.5 227.2V328.9M489.5 200.6V228.1M484.5 177.3V290.3M141.5 191.3V232.6M146.5 218.6V255.3M124.5 195.9V243.4M473.5 210.1V276.1M144.5 254V278M478.5 210.7V246.1M526.5 222V257.8M461.5 178.8V236.1M451.5 183.5V230.7M107.5 211V252.2M111.5 245.2V313.2M474.5 180.9V237.3M503.5 230.9V272.4M127.5 198.5V247.5M127.5 210.7V239.9M105.5 194.6V251.7M477.5 209.2V258.6M166.5 207.8V277.2M521.5 270.8V328.2M109.5 229.3V282.1M152.5 195.1V274M419.5 174V215.4M115.5 215.5V263.8M449.5 189V230M446.5 213.3V266M461.5 208.2V228.8M165.5 193.6V233.2M167.5 194.6V265.1M469.5 184V236.6M108.5 235.2V315.4M436.5 201.8V291.7M440.5 178.9V225.1M481.5 252.3V299.3M459.5 214V253.8M185.5 207.8V264.8M444.5 203.5V248.3M173.5 253V301.9M137.5 213.1V237.5M495.5 231.5V255.6M132.5 206.7V272.1M166.5 217.8V242.1M443.5 195.8V286.2M458.5 197.9V250.2M465.5 184.3V220.7M517.5 225.1V272.3M108.5 222.2V322.7M117.5 281.2V317.9M460.5 272.1V374M440.5 220.3V278.1M200.5 214.6V318M142.5 192.5V278.9M520.5 292.8V430.7M465.5 328.4V445.5M120.5 271.2V382.5M524.5 240.1V373.3M480.5 298.6V409.5M442.5 324.1V442.2M440.5 371.3V445.5M455.5 272.6V354.5M149.5 331.9V393.2M111.5 376.2V438.2M487.5 212.7V405M116.5 253.8V289.5M521.5 371.4V432.6M526.5 329.8V369M523.5 410.6V445.5M469.5 234.6V320.4M476.5 316V445.5M113.5 378.9V445.5M110.5 328.5V394.7M531.5 396.1V445.5M455.5 336.1V445.5M525.5 363.3V445.5M442.5 306.4V396.1M480.5 289.3V429.9M106.5 328.3V445.5M484.5 278V364M492.5 361.8V416.6M158.5 276.2V373.9M469.5 269.7V342.4M195.5 284.4V355.3M165.5 292.8V445.5M523.5 413.1V445.5M474.5 333.5V445.5M134.5 284.6V376.4M520.5 261.3V371.7M530.5 282.1V320.1M483.5 289.2V424.6M111.5 263.8V349.8M191.5 291.2V445.5M450.5 258.5V305.4M165.5 283.8V434.7M474.5 367.4V445.5M105.5 395.7V445.5M446.5 352.3V445.5M441.5 260.2V289.9M534.5 378V445.5M440.5 251.2V445.5M452.5 254.5V317.9M458.5 375.3V445.5M475.5 366V445.5M462.5 304.4V445.5M445.5 277.7V405.3M468.5 307.4V390.5M124.5 242.6V319.3M526.5 380.5V445.5M160.5 254.2V308.3M526.5 375.2V445.5M472.5 244.6V265.9M533.5 389.8V445.5M437.5 280.9V397M530.5 252.5V320.8M524.5 238.7V280.1M123.5 316.1V438.3M466.5 282.4V445.5M486.5 331.5V431.9M105.5 282.8V363M527.5 312.7V368.6M168.5 312.3V397.1M167.5 233.6V279.5M157.5 235.8V387.6M474.5 381.3V445.5M112.5 287.3V427.6M449.5 239.4V367.2M534.5 342.7V420.2M169.5 273.6V331.7M482.5 289.9V338.1M534.5 410.5V445.5M465.5 340.8V445.5M160.5 296.8V323.8M150.5 280.1V316.7M529.5 334.4V445.5M125.5 306.8V387.8M465.5 216.5V299.4M158.5 275.7V367.6M530.5 278.9V403.5M135.5 280.6V336M497.5 338.8V414.1M523.5 265.8V304M489.5 374.5V445.5M103.5 331.1V425.9M105.5 270.9V338M477.5 374.7V445.5M145.5 286.5V352.3M474.5 212.6V302M143.5 226.4V347.3" stroke-width="1.4"/><path d="M207.5 251h0M213.5 259h0M203.5 280.6h0M208.5 278h0M240.5 249.4h0M253.5 277h0M242.5 307.4h0M256.5 331.4h0M271.5 258.6h0M282.5 280.6h0M285.5 315.4h0M298.5 348.4h0M325.5 247h0M325.5 295.4h0M344.5 262.6h0M357.5 265.4h0M346.5 304.4h0M355.5 319.4h0M372.5 293.4h0M374.5 276.4h0M379.5 292.4h0M386.5 299.4h0M397.5 252.6h0M395.5 267.4h0M411.5 276.4h0M426.5 273.4h0M433.5 287.4h0M434.5 304.4h0M353.5 246h0M201.5 370.4h0M209.5 382.4h0M228.5 404.4h0M268.5 420.4h0M283.5 442h0M362.5 382.4h0M355.5 401.4h0M373.5 433.4h0M415.5 360.4h0M432.5 393.4h0M441.5 62.4h0M447.5 79.4h0M460.5 100h0M467.5 103h0M498.5 64.4h0M511.5 61.4h0M515.5 62.4h0M521.5 52h0M489.5 91.4h0M491.5 86.4h0M496.5 91.4h0M501.5 91.4h0M494.5 98h0M498.5 97.4h0M494.5 102.4h0M503.5 102.4h0M506.5 111h0M506.5 116h0M516.5 83h0M516.5 113.6h0M526.5 109.4h0M126.5 116.4h0M194.5 83h0M200.5 114.9h0M418.5 53.9h0M362.5 108.6h0M414.5 122.1h0M246.5 97.1h0M342.5 86.1h0M316.5 109h0M300.5 124.7h0M428.5 115.2h0M268.5 126.5h0M374.5 83.8h0M309.5 99.7h0M344.5 115h0M294.5 84.1h0M155.5 81.7h0M209.5 127.4h0M430.5 74.5h0M317.5 123.6h0M138.5 120.3h0M230.5 118.4h0M177.5 129.2h0M206.5 127.5h0M190.5 124.4h0M299.5 57.8h0M296.5 49.4h0M314.5 114.4h0M192.5 118.9h0M214.5 123.6h0M355.5 99.3h0M421.5 60.2h0M386.5 96.7h0M428.5 122.3h0M314.5 98h0M348.5 66h0M383.5 119.4h0M377.5 104.5h0M439.5 126.9h0M349.5 111.5h0M331.5 119.5h0M292.5 110.1h0M390.5 55h0M323.5 105.1h0M366.5 63.5h0M364.5 114.1h0M379.5 103.6h0M360.5 114.1h0M296.5 62.1h0M438.5 120.2h0M358.5 123.6h0M363.5 81.9h0M373.5 89.9h0M353.5 102.9h0M340.5 41.4h0M188.5 59.7h0M404.5 119.8h0M395.5 100.4h0M298.5 120.4h0M359.5 106.1h0M218.5 115.7h0M327.5 73.1h0M372.5 122.4h0M377.5 89.7h0M397.5 114.1h0M282.5 110.1h0M308.5 123.1h0M170.5 91h0M251.5 108.4h0M293.5 110.7h0M438.5 90.3h0M203.5 98h0M298.5 124.3h0M426.5 108.9h0M375.5 50.6h0M367.5 104.9h0M194.5 125.3h0M321.5 121.4h0M158.5 125.2h0M369.5 104.9h0M321.5 118.5h0M247.5 72.5h0M435.5 126.7h0M170.5 130.5h0M287.5 121.4h0M318.5 124.5h0M413.5 108.7h0M215.5 108.1h0M389.5 116.5h0M314.5 111.8h0M411.5 86.9h0M358.5 101h0M433.5 122.4h0M282.5 69.8h0M433.5 82.5h0M202.5 122.9h0M276.5 99.6h0M408.5 118.8h0M367.5 102.8h0M365.5 107.4h0M144.5 133.6h0M212.5 127.2h0M182.5 111h0M319.5 83.9h0M335.5 95.8h0M189.5 130.7h0M328.5 105.9h0M157.5 110.8h0M275.5 113.6h0M303.5 74.6h0M253.5 126.5h0M281.5 127.2h0M405.5 63.4h0M370.5 61.1h0M267.5 120.8h0M426.5 99.7h0M240.5 126.1h0M362.5 117.4h0M223.5 117.8h0M196.5 122.3h0M253.5 103.2h0M175.5 124.9h0M155.5 69.2h0M355.5 96.4h0M292.5 117.3h0M292.5 112.9h0M285.5 94.7h0M209.5 103.8h0M247.5 109.4h0M387.5 65.1h0M163.5 131.3h0M256.5 99.4h0M394.5 118.3h0M428.5 115.1h0M147.5 137h0M366.5 121.1h0M275.5 84.9h0M304.5 120.2h0M303.5 127.4h0M396.5 85.9h0M259.5 39.6h0M234.5 105.1h0M206.5 117.5h0M165.5 129h0M151.5 139.1h0M299.5 122.2h0M316.5 120.9h0M353.5 57.9h0M423.5 121.5h0M189.5 122.2h0M242.5 128.1h0M255.5 115.4h0M323.5 115.1h0M226.5 105h0M357.5 106.1h0M333.5 81.3h0M401.5 106.9h0M143.5 141.8h0M376.5 91.2h0M311.5 118.9h0M311.5 75.2h0M221.5 108h0M370.5 90.1h0M398.5 113.8h0M317.5 40h0M287.5 100.9h0M159.5 96.8h0M263.5 128.6h0M200.5 116.4h0M149.5 58.3h0M129.5 131.9h0M342.5 77.6h0M333.5 98.8h0M431.5 124.4h0M346.5 74h0M290.5 116.1h0M294.5 126.6h0M213.5 107h0M167.5 109.7h0M266.5 77.8h0M151.5 136.1h0M357.5 67.6h0M321.5 125.6h0M150.5 130.7h0M292.5 104.4h0M392.5 71.8h0M274.5 116.5h0M140.5 133h0M350.5 115.6h0M314.5 91.2h0M355.5 56.8h0M321.5 125.3h0M379.5 90.3h0M173.5 119.8h0M394.5 111.1h0M156.5 112.8h0M322.5 108.8h0M231.5 123.5h0M215.5 112.2h0M373.5 94.3h0M377.5 116.1h0M310.5 85.8h0M364.5 78.6h0M230.5 115.2h0M229.5 117.3h0M235.5 129h0M308.5 88.4h0M143.5 98.8h0M360.5 124.8h0M199.5 90.9h0M287.5 100.4h0M294.5 108.7h0M145.5 92.7h0M344.5 113.6h0M256.5 100.9h0M430.5 121h0M241.5 107.6h0M341.5 122.4h0M322.5 116.2h0M325.5 92.8h0M280.5 77.9h0M258.5 42.8h0M333.5 72.8h0M326.5 93h0M316.5 116h0M363.5 85.5h0M370.5 102.4h0M356.5 65.5h0M245.5 80.8h0M417.5 105.5h0M143.5 116.3h0M301.5 86.1h0M424.5 107.5h0M370.5 76.8h0M370.5 109.3h0M403.5 111.5h0M355.5 52.5h0M365.5 122.7h0M146.5 133.9h0M418.5 123.1h0M354.5 107.2h0M281.5 101.9h0M178.5 121.6h0M403.5 58.3h0M400.5 121.7h0M419.5 107.9h0M253.5 108.7h0M276.5 116.8h0M154.5 117.5h0M363.5 101.3h0M146.5 139.4h0M295.5 112.7h0M414.5 120.9h0M383.5 118.2h0M306.5 116.8h0M190.5 121.5h0M143.5 67.7h0M321.5 98.6h0M184.5 115.1h0M140.5 105.4h0M168.5 39.5h0M209.5 57.6h0M380.5 102h0M147.5 115h0M156.5 128.6h0M213.5 108.1h0M303.5 123.4h0M240.5 114.2h0M265.5 119.1h0M392.5 115.4h0M480.5 120h0M103.5 135.3h0M222.5 113h0M534.5 133.5h0M327.5 116.1h0M307.5 109h0M359.5 107.8h0M344.5 108.8h0M453.5 116.8h0M351.5 110.3h0M211.5 120h0M485.5 125.7h0M117.5 132.7h0M328.5 119.3h0M503.5 127h0M387.5 111.4h0M218.5 122.4h0M369.5 112.5h0M520.5 132.4h0M122.5 132.4h0M219.5 115h0M110.5 128.9h0M177.5 115.8h0M530.5 142.7h0M344.5 116.4h0M205.5 114.5h0M287.5 103.9h0M163.5 119.9h0M150.5 127h0M201.5 108.7h0M117.5 129.1h0M145.5 124.8h0M252.5 111.1h0M279.5 119.6h0M237.5 115.7h0M283.5 114.6h0M203.5 113.2h0M283.5 106.9h0M424.5 111.7h0M344.5 108.5h0M334.5 111h0M395.5 107.2h0M284.5 104h0M197.5 119.3h0M150.5 126.2h0M185.5 107.2h0M191.5 116.6h0M316.5 111.1h0M197.5 115.2h0M232.5 110h0M420.5 105.4h0M211.5 125.7h0M154.5 114.5h0M506.5 133.8h0M362.5 106.2h0M133.5 127.8h0M511.5 126.2h0M515.5 131.6h0M109.5 131.7h0M262.5 111.5h0M106.5 134.1h0M262.5 106.7h0M333.5 109.6h0M312.5 115.8h0M482.5 127.6h0M472.5 125.7h0M501.5 130.6h0M174.5 113.4h0M470.5 125.3h0M392.5 104.3h0M374.5 118.7h0M234.5 109.9h0M430.5 106.2h0M297.5 99.1h0M150.5 126.8h0M332.5 101.8h0M376.5 106.2h0M149.5 122.4h0M359.5 110.2h0M378.5 109.4h0M510.5 134.6h0M352.5 109.6h0M439.5 107.8h0M436.5 111.7h0M452.5 123.4h0M389.5 103h0M109.5 131.3h0M131.5 126.6h0M371.5 104.8h0M326.5 118.3h0M422.5 113h0M373.5 119h0M144.5 119.9h0M442.5 124.6h0M216.5 114.4h0M485.5 129.4h0M226.5 114.2h0M296.5 125.3h0M108.5 136.2h0M247.5 112h0M241.5 117.8h0M288.5 112h0M182.5 120.5h0M379.5 118.8h0M224.5 124.6h0M182.5 113.4h0M165.5 124.1h0M101.5 134.7h0M216.5 113.5h0M488.5 124h0M250.5 116.4h0M351.5 106.2h0M102.5 136h0M329.5 112.6h0M179.5 118.3h0M409.5 114.2h0M195.5 119h0M166.5 122.8h0M339.5 112.2h0M531.5 130.2h0M527.5 135.8h0M378.5 111h0M141.5 125.1h0M510.5 128.9h0M237.5 114.7h0M446.5 109.8h0M441.5 108.5h0M526.5 133.2h0M316.5 107.5h0M438.5 123.3h0M225.5 110.2h0M332.5 112.6h0M282.5 109.4h0M258.5 111.9h0M328.5 111.6h0M336.5 119.4h0M166.5 127.7h0M346.5 106.2h0M135.5 118.7h0M228.5 107.1h0M312.5 117.5h0M493.5 121.2h0M436.5 110.7h0M189.5 117.9h0M392.5 109h0M478.5 127.1h0M278.5 111.8h0M366.5 109.4h0M423.5 114h0M346.5 103.5h0M379.5 102.6h0M106.5 131h0M142.5 119.7h0M105.5 135.1h0M449.5 114.7h0M435.5 112.1h0M488.5 133.1h0M100.5 132.8h0M445.5 115.4h0M237.5 116.3h0M202.5 114.3h0M424.5 113.1h0M327.5 114.5h0M455.5 118.8h0M128.5 131.4h0M450.5 117.3h0M494.5 130.5h0M323.5 109.7h0M167.5 131.7h0M511.5 134.1h0M310.5 126.4h0M301.5 109.2h0M506.5 127.1h0M448.5 114.6h0M487.5 132h0M390.5 120.3h0M348.5 98.1h0M294.5 106.6h0M372.5 106.2h0M332.5 108.2h0M232.5 122.5h0M369.5 112.5h0M147.5 123.4h0M142.5 120.8h0M244.5 109.2h0M461.5 117.5h0M117.5 132.2h0M317.5 112.8h0M217.5 116.8h0M251.5 117.7h0M434.5 102.9h0M335.5 111.6h0M126.5 136.5h0M116.5 130.7h0M466.5 119.3h0M115.5 133.3h0M288.5 107.8h0M102.5 133.7h0M384.5 110.8h0M403.5 114.2h0M282.5 114.7h0M294.5 97.3h0M100.5 136.2h0M140.5 132.1h0M523.5 135.8h0M164.5 115.5h0M320.5 108.9h0M137.5 125.3h0M340.5 107.5h0M113.5 138.2h0M508.5 129.6h0M163.5 118.5h0M297.5 113.5h0M288.5 106.5h0M247.5 120.1h0M459.5 118.6h0M175.5 127.2h0M377.5 110.2h0M324.5 111.3h0M299.5 107h0M252.5 111.5h0M430.5 112.9h0M350.5 106h0M462.5 120.7h0M394.5 103.6h0M439.5 103.2h0M429.5 115.5h0M158.5 131h0M284.5 107.9h0M249.5 115.3h0M221.5 117.6h0M381.5 110.9h0M515.5 130.4h0M289.5 113.8h0M343.5 115.7h0M115.5 129h0M328.5 117.2h0M525.5 133.6h0M122.5 123h0M138.5 121.8h0M382.5 108h0M192.5 114.4h0M305.5 104.4h0M105.5 131.2h0M139.5 123.3h0M141.5 126.9h0M479.5 126.1h0M137.5 120.1h0M515.5 127.5h0M462.5 125.5h0M413.5 109.4h0M395.5 107.3h0M470.5 129.1h0M168.5 126.1h0M233.5 115.8h0M266.5 112.8h0M329.5 112.4h0M113.5 133.3h0M215.5 123.1h0M268.5 115.9h0M505.5 134.2h0M221.5 108.1h0M123.5 130.4h0M163.5 115.1h0M486.5 125h0M149.5 119.1h0M480.5 124.5h0M386.5 91.9h0M403.5 111h0M311.5 115.2h0M289.5 118.7h0M377.5 100.7h0M362.5 101.5h0M238.5 111.8h0M238.5 109.2h0M125.5 131.1h0M339.5 127.9h0M180.5 119.3h0M173.5 123h0M164.5 124.5h0M334.5 114.3h0M135.5 132.9h0M330.5 111.2h0M102.5 131.4h0M130.5 121.1h0M505.5 124.3h0M186.5 124.9h0M455.5 112.3h0M299.5 112.3h0M273.5 120h0M388.5 108.3h0M287.5 116.2h0M102.5 139.1h0M166.5 117.2h0M308.5 113.2h0M327.5 111.2h0M381.5 107.2h0M218.5 107.3h0M327.5 107.8h0M118.5 138.9h0M157.5 129.5h0M237.5 107.4h0M131.5 124.4h0M507.5 136.1h0M194.5 112.1h0M238.5 112.9h0M397.5 115.1h0M114.5 137.6h0M236.5 112.4h0M140.5 122.1h0M143.5 130.7h0M153.5 115.4h0M385.5 117.1h0M331.5 106.3h0M533.5 131.9h0M382.5 107.4h0M368.5 100.1h0M125.5 129.3h0M505.5 132h0M363.5 110.5h0M305.5 105.1h0M523.5 136.4h0M241.5 116.9h0M179.5 119.6h0M132.5 136.2h0M122.5 134.8h0M273.5 112.9h0M326.5 108.1h0M172.5 112.6h0M137.5 127.7h0M175.5 115.8h0M502.5 132h0M345.5 103.2h0M466.5 126.4h0M371.5 112.9h0M352.5 110.8h0M481.5 131.1h0M425.5 105h0M439.5 112.1h0M512.5 128.5h0M249.5 110.6h0M332.5 112.8h0M263.5 105.6h0M493.5 130.2h0M460.5 118h0M237.5 113.2h0M252.5 116.8h0M370.5 115.5h0M257.5 121.5h0M344.5 101.3h0M487.5 121h0M415.5 105.1h0M309.5 116.3h0M167.5 122.6h0M131.5 131.6h0M496.5 130.1h0M428.5 116.4h0M136.5 133.6h0M440.5 115.4h0M213.5 116.6h0M102.5 130.6h0M116.5 129.3h0M365.5 109.8h0M209.5 116.4h0M317.5 97.3h0M495.5 126.4h0M317.5 117.6h0M303.5 111.7h0M462.5 119.6h0M300.5 108.6h0M415.5 113h0M211.5 116.4h0M447.5 102.6h0M262.5 112.7h0M365.5 98.4h0M259.5 119.2h0M308.5 119.9h0M377.5 115.1h0M317.5 119h0M194.5 113.2h0M187.5 119h0M522.5 134.4h0M169.5 130.8h0M450.5 109.9h0M142.5 120.5h0M273.5 111.5h0M208.5 105.9h0M223.5 113.4h0M534.5 135.1h0M374.5 106.4h0M172.5 117.7h0M278.5 115.9h0M275.5 112.4h0M180.5 118.2h0M386.5 110.2h0M263.5 115.5h0M311.5 120.2h0M487.5 129.8h0M417.5 97.8h0M370.5 106.5h0M372.5 110.7h0M150.5 116.8h0M527.5 136.6h0M129.5 129.2h0M105.5 128.5h0M422.5 106.1h0M406.5 108.4h0M454.5 117.2h0M256.5 106.1h0M297.5 97.9h0M179.5 129.1h0M382.5 123.4h0M300.5 120.4h0M206.5 119.1h0M328.5 119h0M410.5 121.2h0M137.5 137.2h0M191.5 119.9h0M363.5 117h0M433.5 115.6h0M314.5 116.3h0M474.5 138.8h0M346.5 119.6h0M240.5 129.6h0M463.5 134.1h0M234.5 125.4h0M259.5 121h0M299.5 122.5h0M433.5 125.7h0M384.5 119.1h0M462.5 127.5h0M279.5 118.8h0M526.5 136.8h0M148.5 136.5h0M371.5 124.2h0M505.5 143.4h0M135.5 133.7h0M378.5 113h0M159.5 137.8h0M405.5 123.5h0M377.5 114.7h0M330.5 126.7h0M160.5 135.4h0M290.5 123.7h0M310.5 124.6h0M141.5 134.2h0M407.5 123.2h0M316.5 123.6h0M196.5 121.4h0M182.5 128.3h0M333.5 119.6h0M311.5 122.7h0M267.5 124.1h0M171.5 123h0M237.5 116.6h0M450.5 123.8h0M379.5 117h0M422.5 120.7h0M390.5 118.5h0M429.5 118.7h0M202.5 120.8h0M131.5 142.9h0M338.5 120h0M486.5 139.9h0M273.5 128h0M422.5 113h0M185.5 122.4h0M226.5 124.5h0M368.5 123.9h0M362.5 112.8h0M432.5 125.6h0M284.5 120.7h0M130.5 134.9h0M206.5 129h0M199.5 124.9h0M213.5 125.6h0M267.5 126.3h0M198.5 121.1h0M338.5 124.9h0M359.5 120.3h0M441.5 121.3h0M235.5 127.5h0M430.5 120.3h0M360.5 121h0M157.5 136.7h0M251.5 118.4h0M161.5 136.1h0M230.5 121.8h0M300.5 125.6h0M531.5 141.5h0M386.5 121.8h0M164.5 125h0M272.5 121.9h0M333.5 113.9h0M394.5 115.2h0M224.5 118.2h0M372.5 112.9h0M334.5 117.2h0M255.5 123.4h0M385.5 118.8h0M185.5 128.1h0M265.5 115.7h0M509.5 136.4h0M290.5 189.6h0M256.5 204.4h0M234.5 182.5h0M349.5 213.8h0M373.5 210.5h0M269.5 234.9h0M339.5 240.1h0M263.5 176.9h0M331.5 178.6h0M345.5 181.1h0M253.5 192.3h0M398.5 183.2h0M300.5 182.5h0M344.5 177.2h0M337.5 219.1h0M355.5 208.8h0M400.5 227h0M302.5 185.8h0M277.5 189.7h0M335.5 177.1h0M272.5 206.8h0M238.5 221h0M353.5 183h0M330.5 217.5h0M245.5 232.3h0M400.5 196.5h0M388.5 203.7h0M278.5 187.2h0M415.5 181.1h0M302.5 197.9h0M267.5 188h0M400.5 190.7h0M253.5 176.5h0M269.5 201.5h0M401.5 182.5h0M273.5 224.5h0M414.5 196.1h0M419.5 229.8h0M232.5 185.8h0M340.5 196.7h0M356.5 176.6h0M245.5 203.3h0M371.5 181h0M249.5 190.2h0M229.5 181.1h0M336.5 185.5h0M250.5 224.8h0M306.5 178h0M404.5 217.8h0M250.5 178.4h0M307.5 195.9h0M285.5 224.7h0M382.5 214h0M407.5 179.7h0M219.5 240.9h0M384.5 183.5h0M403.5 204.3h0M417.5 216.2h0M318.5 192.8h0M370.5 177h0M389.5 176.9h0M262.5 214.6h0M359.5 180.7h0M397.5 192.8h0M332.5 183h0M414.5 186.5h0M390.5 179.7h0M300.5 207.9h0M371.5 177.5h0M261.5 184.2h0M274.5 187.6h0M350.5 206.1h0M267.5 176.3h0M308.5 221.8h0M402.5 185.8h0M304.5 192.4h0M325.5 194.4h0M218.5 203.4h0M393.5 188h0M223.5 178.8h0M370.5 190h0M272.5 182.3h0M332.5 215.1h0M378.5 179.5h0M259.5 191.4h0M240.5 184.4h0M318.5 187.2h0M232.5 189.5h0M277.5 194.1h0M285.5 212.3h0M384.5 179.6h0M301.5 215.2h0M315.5 180.3h0M333.5 239.3h0M234.5 207.3h0M418.5 205.1h0M222.5 197.2h0M369.5 183.2h0M271.5 188.5h0M230.5 221.5h0M339.5 236.4h0M313.5 179.4h0M285.5 208.8h0M344.5 187.4h0M359.5 204.2h0M223.5 189.3h0M288.5 202.1h0M225.5 187.8h0M290.5 177.5h0M262.5 187.4h0M253.5 196.5h0M222.5 197.6h0M411.5 213.2h0M397.5 222.9h0M402.5 186.1h0M409.5 187h0M269.5 191.4h0M369.5 181.5h0M405.5 184.9h0M390.5 185.3h0M276.5 222.1h0M383.5 176.6h0M332.5 200.9h0M293.5 199.3h0M276.5 231.8h0M385.5 206h0M280.5 223.4h0M346.5 220h0M279.5 190.3h0M275.5 218.9h0M334.5 185.9h0M377.5 187h0M281.5 197.4h0M341.5 213.9h0M376.5 193.3h0M280.5 200.2h0M275.5 190.8h0M234.5 184.3h0M356.5 215.8h0M313.5 207.7h0M330.5 211.7h0M339.5 202h0M298.5 197.8h0M255.5 187.8h0M237.5 197.2h0M356.5 216.7h0M355.5 194.8h0M310.5 215.2h0M306.5 204.4h0M297.5 187.5h0M266.5 207.6h0M344.5 231.5h0M276.5 178.3h0M230.5 214.8h0M329.5 199h0M356.5 181h0M278.5 175.3h0M420.5 185.5h0M281.5 173.8h0M351.5 183.7h0M329.5 173.1h0M227.5 191.8h0M247.5 181.5h0M269.5 184h0M279.5 190.6h0M376.5 169.6h0M208.5 188.8h0M420.5 183.5h0M333.5 188.1h0M340.5 196.8h0M286.5 180.5h0M364.5 195.6h0M306.5 181.4h0M415.5 177.3h0M368.5 183.2h0M213.5 184.3h0M385.5 172h0M384.5 185.6h0M231.5 189.3h0M237.5 180h0M260.5 191h0M392.5 185.8h0M220.5 192.8h0M262.5 180.8h0M244.5 182.5h0M275.5 184.2h0M389.5 200.6h0M358.5 184.5h0M330.5 197.3h0M367.5 181.3h0M377.5 189.4h0M286.5 182.3h0M237.5 183.7h0M280.5 186.9h0M283.5 188h0M349.5 184.9h0M227.5 176h0M214.5 182.9h0M249.5 183.5h0M352.5 188.6h0M335.5 177.7h0M276.5 186.2h0M340.5 177.9h0M312.5 180.8h0M378.5 188.2h0M246.5 184.8h0M335.5 193.2h0M217.5 187h0M342.5 178.1h0M262.5 188.6h0M409.5 192.3h0M217.5 174.3h0M365.5 177.5h0M217.5 181.8h0M273.5 185.7h0M240.5 178.7h0M383.5 175.8h0M283.5 180.3h0M323.5 187.2h0M378.5 174.6h0M280.5 187.7h0M233.5 186.6h0M294.5 185.3h0M250.5 177.4h0M245.5 183.8h0M400.5 185.9h0M362.5 181.1h0M232.5 196.5h0M415.5 180.5h0M417.5 185.2h0M246.5 182.5h0M216.5 182.4h0M417.5 180.7h0M355.5 176.7h0M239.5 184.4h0M218.5 187.5h0M318.5 179h0M272.5 173.4h0M263.5 177.2h0M290.5 189.3h0M342.5 180.9h0M330.5 193.5h0M272.5 187.5h0M264.5 173.6h0M381.5 181.8h0M379.5 185h0M407.5 182.1h0M271.5 185.4h0M333.5 181.7h0M408.5 182h0M356.5 179.3h0M317.5 187h0M353.5 173.2h0M295.5 193.2h0M346.5 179.6h0M389.5 189.8h0M285.5 179.1h0M308.5 175.6h0M281.5 170.3h0M244.5 180.3h0M263.5 184.7h0M224.5 184.6h0M295.5 188.7h0M317.5 190.3h0M248.5 178.4h0M345.5 182.5h0M370.5 183.1h0M255.5 187h0M416.5 178.4h0M273.5 180.2h0M278.5 186.2h0M350.5 187.1h0M244.5 185.5h0M217.5 189.3h0M246.5 179.6h0M355.5 174.9h0M375.5 177.8h0M331.5 181.1h0M259.5 183.4h0M371.5 178.9h0M219.5 170.9h0M255.5 177.6h0M350.5 188.3h0M308.5 183.9h0M222.5 176.8h0M483.5 307.8h0M155.5 372.3h0M492.5 205.7h0M181.5 232.2h0M496.5 234.7h0M462.5 237.1h0M102.5 217.1h0M518.5 235.3h0M150.5 213.4h0M478.5 237.3h0M191.5 207.2h0M162.5 231h0M438.5 287.8h0M522.5 250.8h0M488.5 220.5h0M499.5 250h0M193.5 192.9h0M448.5 238.5h0M155.5 205.9h0M154.5 210h0M192.5 188.3h0M502.5 281.3h0M529.5 223.6h0M491.5 220.9h0M484.5 252.7h0M191.5 227.7h0M507.5 269.9h0M440.5 245.4h0M454.5 287.8h0M107.5 232.6h0M132.5 225.9h0M459.5 240.3h0M531.5 253.8h0M526.5 251.6h0M146.5 208.9h0M459.5 220.1h0M149.5 253.9h0M440.5 203.1h0M108.5 246.2h0M464.5 264.7h0M425.5 204.1h0M153.5 230.3h0M118.5 239.6h0M445.5 233.1h0M493.5 267.7h0M138.5 231.2h0M465.5 261.9h0M198.5 221.1h0M446.5 203.6h0M113.5 258.4h0M125.5 225.1h0M122.5 317.9h0M168.5 196.6h0M142.5 203.5h0M135.5 202.6h0M521.5 290.5h0M488.5 216h0M429.5 202.9h0M530.5 228.7h0M445.5 284.6h0M120.5 260.9h0M518.5 256.3h0M434.5 240.5h0M110.5 219.3h0M124.5 321.6h0M181.5 215.1h0M468.5 209.3h0M510.5 253h0M444.5 255.6h0M458.5 222.8h0M510.5 211.6h0M524.5 287.6h0M445.5 250.4h0M462.5 219.8h0M143.5 265.9h0M527.5 227.3h0M151.5 212.1h0M503.5 300.4h0M474.5 226.9h0M174.5 190h0M431.5 237.3h0M524.5 308.5h0M456.5 248.4h0M154.5 208.3h0M497.5 230.2h0M445.5 225.5h0M141.5 236.1h0M427.5 194.4h0M152.5 277.3h0M153.5 199.5h0M128.5 239h0M449.5 217h0M137.5 290.2h0M474.5 263.8h0M437.5 283.7h0M479.5 231.3h0M190.5 263.3h0M518.5 268.7h0M487.5 244.9h0M440.5 250.4h0M471.5 225.7h0M172.5 215.8h0M473.5 242.9h0M513.5 215.6h0M163.5 249.9h0M461.5 223.3h0M458.5 251h0M123.5 242h0M433.5 214.6h0M504.5 252.8h0M526.5 245.1h0M454.5 305h0M489.5 256.2h0M452.5 244.2h0M426.5 210.2h0M151.5 335.2h0M482.5 233.6h0M439.5 241.5h0M531.5 262.1h0M519.5 236.9h0M520.5 238.7h0M507.5 249.4h0M110.5 236.3h0M489.5 234.7h0M110.5 222.3h0M165.5 212.1h0M450.5 216.2h0M433.5 217.4h0M513.5 269.8h0M120.5 217.5h0M456.5 220.5h0M441.5 211.7h0M137.5 237.6h0M157.5 207.6h0M116.5 234.2h0M101.5 237.5h0M532.5 224.6h0M447.5 281.2h0M468.5 245.5h0M169.5 226.7h0M112.5 224.6h0M119.5 260.2h0M142.5 271.4h0M511.5 249.6h0M501.5 230.5h0M448.5 227.7h0M179.5 254.6h0M105.5 233.1h0M459.5 217.4h0M162.5 212.2h0M497.5 205.3h0M151.5 240h0M162.5 206h0M439.5 200.7h0M118.5 230.7h0M458.5 284.5h0M106.5 218h0M511.5 257.8h0M470.5 256.1h0M148.5 259h0M499.5 220.4h0M106.5 227.8h0M105.5 209.3h0M522.5 245.2h0M451.5 209.3h0M156.5 224.2h0M508.5 341.3h0M129.5 233h0M467.5 217.3h0M109.5 253.6h0M468.5 227.3h0M135.5 235.1h0M153.5 203.2h0M137.5 221.3h0M440.5 210.8h0M175.5 193.8h0M492.5 210.8h0M499.5 214h0M108.5 215.9h0M114.5 208.5h0M476.5 239.9h0M103.5 223.9h0M124.5 222.1h0M493.5 216.8h0M178.5 211.5h0M139.5 267.9h0M120.5 205.2h0M136.5 242.4h0M532.5 254.2h0M443.5 227.2h0M494.5 207.7h0M473.5 237.4h0M521.5 275h0M104.5 222h0M107.5 238.9h0M125.5 239.7h0M451.5 233.7h0M522.5 216.5h0M498.5 205.5h0M481.5 248.6h0M176.5 302.1h0M105.5 213.3h0M174.5 244.2h0M447.5 212.4h0M528.5 257.1h0M473.5 225.6h0M462.5 232h0M444.5 220.5h0M458.5 207.1h0M141.5 227.3h0M459.5 261.4h0M433.5 207.9h0M128.5 222.7h0M167.5 230.1h0M111.5 249.3h0M120.5 213.6h0M103.5 280.7h0M137.5 229.9h0M465.5 240.7h0M423.5 196.8h0M468.5 284.6h0M176.5 203.6h0M115.5 292.2h0M491.5 278.3h0M447.5 276.4h0M142.5 294.9h0M480.5 278.6h0M186.5 223.8h0M440.5 216.7h0M447.5 244.8h0M499.5 216.1h0M504.5 250.3h0M503.5 233.5h0M108.5 221.3h0M145.5 231.9h0M444.5 248h0M445.5 207.9h0M426.5 212.7h0M452.5 214.8h0M439.5 238.6h0M173.5 203.1h0M187.5 261.5h0M497.5 215.2h0M143.5 211.2h0M464.5 257h0M177.5 232.3h0M499.5 218.7h0M127.5 223.5h0M110.5 206.9h0M463.5 224.6h0M463.5 223.7h0M522.5 214.6h0M108.5 232.5h0M453.5 217.8h0M465.5 214.6h0M495.5 231.5h0M121.5 248.3h0M492.5 274h0M504.5 224.9h0M516.5 229.7h0M134.5 216.6h0M169.5 333.2h0M514.5 272h0M443.5 200.7h0M488.5 229.2h0M472.5 208.4h0M511.5 214.8h0M437.5 230.2h0M166.5 205.9h0M532.5 227h0M138.5 232.9h0M432.5 206.8h0M139.5 237.8h0M139.5 207.9h0M529.5 237.1h0M161.5 234.1h0M533.5 331.7h0M452.5 225.8h0M500.5 272.4h0M461.5 263.1h0M451.5 265.3h0M495.5 262.7h0M498.5 223h0M144.5 231.6h0M148.5 251.2h0M122.5 241.1h0M515.5 274.7h0M502.5 261.7h0M490.5 273.9h0M155.5 242.2h0M510.5 308.9h0M147.5 210.8h0M438.5 213.4h0M506.5 210.7h0M530.5 235.1h0M519.5 231.1h0M478.5 305.7h0M522.5 264.8h0M455.5 221.3h0M502.5 232.9h0M422.5 199.3h0M480.5 264.2h0M152.5 261.2h0M489.5 299.8h0M169.5 224.7h0M431.5 216.4h0M508.5 259.1h0M462.5 292.9h0M189.5 191.8h0M491.5 221.2h0M196.5 184.6h0M491.5 225.7h0M481.5 216.1h0M533.5 303.9h0M138.5 255.9h0M116.5 230.1h0M465.5 322.2h0M145.5 242.3h0M464.5 229.1h0M126.5 247.1h0M176.5 213.2h0M522.5 226.8h0M465.5 231.3h0M193.5 232.3h0M453.5 236.7h0M509.5 215.4h0M515.5 210.9h0M473.5 219.3h0M522.5 225.1h0M487.5 207.8h0M467.5 240.9h0M463.5 207.9h0M424.5 200h0M514.5 221.5h0M531.5 303h0M114.5 252.2h0M526.5 211.8h0M488.5 230.1h0M489.5 232.5h0M514.5 248.4h0M481.5 246.4h0M465.5 218.5h0M439.5 218.5h0M482.5 226.2h0M144.5 285.6h0M441.5 204.9h0M152.5 207.6h0M533.5 248.8h0M467.5 226.7h0M514.5 275.5h0M520.5 242.9h0M496.5 234.9h0M190.5 212.8h0M103.5 346.9h0M452.5 305.7h0M178.5 232.6h0M103.5 267.3h0M483.5 238.3h0M205.5 216.4h0M112.5 263.6h0M137.5 237h0M141.5 226.2h0M478.5 234.8h0M503.5 223.6h0M524.5 224.1h0M521.5 230.8h0M511.5 213.4h0M435.5 239.8h0M151.5 247h0M433.5 227.9h0M439.5 280.8h0M470.5 242.5h0M175.5 221.8h0M476.5 223.5h0M117.5 209.7h0M111.5 209.5h0M184.5 295.5h0M184.5 235.8h0M161.5 232.2h0M440.5 248.4h0M104.5 271.7h0M449.5 247.1h0M143.5 213.4h0M497.5 216.4h0M504.5 251.7h0M521.5 275.3h0M132.5 230.8h0M533.5 215.5h0M510.5 297h0M481.5 218.3h0M173.5 247.4h0M182.5 249.7h0M438.5 273.4h0M527.5 265.1h0M104.5 219.2h0M459.5 256.9h0M146.5 251h0M181.5 219.4h0M518.5 245.4h0M491.5 255.8h0M443.5 285h0M462.5 203.4h0M147.5 223.7h0M472.5 245.6h0M455.5 241h0M476.5 228.1h0M140.5 220.6h0M531.5 239h0M517.5 215.6h0M162.5 247h0M135.5 266.3h0M168.5 218.8h0M508.5 210.2h0M148.5 311h0M105.5 238h0M178.5 205.7h0M158.5 244.2h0M136.5 259.9h0M433.5 215.3h0M121.5 234.2h0M168.5 284.6h0M513.5 283.6h0M113.5 233.6h0M171.5 207.7h0M486.5 211.4h0M490.5 221.5h0M522.5 257.6h0M510.5 240.4h0M113.5 231.3h0M515.5 244.9h0M446.5 202.1h0M140.5 246.1h0M459.5 236.3h0M531.5 256.9h0M166.5 205.5h0M158.5 201.2h0M102.5 219.5h0M450.5 253.9h0M462.5 264.2h0M139.5 244.6h0M503.5 298.7h0M158.5 203.7h0M533.5 291.8h0M476.5 226.3h0M137.5 215.9h0M466.5 230.9h0M155.5 219.2h0M459.5 296.7h0M499.5 278h0M489.5 214.3h0M484.5 233.8h0M141.5 211.9h0M146.5 237h0M124.5 219.7h0M473.5 243.1h0M144.5 266h0M478.5 228.4h0M526.5 239.9h0M461.5 207.5h0M451.5 207.1h0M107.5 231.6h0M111.5 279.2h0M474.5 209.1h0M503.5 251.7h0M127.5 223h0M127.5 225.3h0M105.5 223.1h0M477.5 233.9h0M166.5 242.5h0M521.5 299.5h0M109.5 255.7h0M152.5 234.5h0M419.5 194.7h0M115.5 239.7h0M449.5 209.5h0M446.5 239.6h0M461.5 218.5h0M165.5 213.4h0M167.5 229.8h0M469.5 210.3h0M108.5 275.3h0M436.5 246.8h0M440.5 202h0M481.5 275.8h0M459.5 233.9h0M185.5 236.3h0M444.5 225.9h0M173.5 277.4h0M137.5 225.3h0M495.5 243.5h0M132.5 239.4h0M166.5 230h0M443.5 241h0M458.5 224h0M465.5 202.5h0M517.5 248.7h0M108.5 272.5h0M117.5 299.5h0M460.5 323.1h0M440.5 249.2h0M200.5 266.3h0M142.5 235.7h0M520.5 361.7h0M465.5 436.4h0M120.5 326.8h0M524.5 306.7h0M480.5 354.1h0M442.5 383.1h0M455.5 313.6h0M149.5 362.6h0M111.5 407.2h0M487.5 308.9h0M116.5 271.6h0M521.5 402h0M526.5 349.4h0M469.5 277.5h0M113.5 439.2h0M110.5 361.6h0M525.5 411.8h0M442.5 351.2h0M480.5 359.6h0M106.5 395.1h0M484.5 321h0M492.5 389.2h0M158.5 325.1h0M469.5 306.1h0M195.5 319.8h0M165.5 370.6h0M474.5 422.5h0M134.5 330.5h0M520.5 316.5h0M530.5 301.1h0M483.5 356.9h0M111.5 306.8h0M191.5 371.5h0M450.5 281.9h0M165.5 359.2h0M446.5 404.3h0M441.5 275.1h0M440.5 408.1h0M452.5 286.2h0M458.5 429.3h0M475.5 427.9h0M462.5 379.4h0M445.5 341.5h0M468.5 349h0M124.5 280.9h0M526.5 434.3h0M160.5 281.2h0M472.5 255.3h0M437.5 338.9h0M530.5 286.6h0M524.5 259.4h0M123.5 377.2h0M466.5 403.9h0M486.5 381.7h0M105.5 322.9h0M527.5 340.6h0M168.5 354.7h0M167.5 256.6h0M157.5 311.7h0M474.5 438.1h0M112.5 357.5h0M449.5 303.3h0M534.5 381.5h0M169.5 302.6h0M482.5 314h0M534.5 443.7h0M465.5 406.3h0M160.5 310.3h0M150.5 298.4h0M529.5 392.3h0M125.5 347.3h0M465.5 257.9h0M158.5 321.6h0M530.5 341.2h0M135.5 308.3h0M497.5 376.4h0M523.5 284.9h0M103.5 378.5h0M105.5 304.5h0M477.5 428.2h0M145.5 319.4h0M474.5 257.3h0M143.5 286.8h0" stroke-width="5.4" stroke-linecap="round"/></g>
<g id="c1" fill="none" stroke="#000"><path d="M206.5 273V333M255.5 245V285M300.5 303V393.8M314.5 214V266M331.5 213V273M363.5 249V335.8M398.5 246.8V290M206.5 358.8V432M358.5 324.6V430.2M472.5 96.4V116.4M519.5 70V94M523.5 73.9V98.9M528.5 76V110M104.5 98.9V123.9M110.5 98.1V129.1M137.5 94.4V114.4M142.5 96V116M320.5 70.1V127M222.5 68.8V99.2M329.5 88.6V118.1M296.5 42.5V86.3M420.5 48.7V94.4M286.5 112.3V127.5M200.5 116V129.5M232.5 122.5V132.2M316.5 71.7V106.8M297.5 115.1V126M275.5 88.6V104.3M388.5 103.4V121.7M284.5 119.5V126.2M153.5 86.7V115.4M191.5 112.5V124.8M312.5 99.1V118.6M182.5 89.2V110.9M375.5 84.2V97.9M204.5 117.4V131.8M409.5 117.2V128.4M314.5 98.3V112.5M163.5 128.8V140.7M370.5 81V108.7M313.5 86.2V125M385.5 68.9V102.4M275.5 113.3V131.7M181.5 96V110.4M353.5 91.2V116.1M372.5 118.1V128.1M426.5 102.9V135.2M326.5 65.9V98M268.5 91.8V119.7M180.5 118V129M303.5 102.5V122.4M232.5 123.1V135.5M407.5 78.6V104.9M372.5 103.3V120.4M373.5 114.3V127.1M425.5 34.5V75.7M354.5 72.1V95.1M367.5 118.6V128M304.5 110V132.1M332.5 113.3V135.2M210.5 115V129.8M274.5 74.5V94.4M384.5 83.1V104.8M355.5 105.2V123.2M222.5 121.8V133.2M347.5 115.1V127M412.5 108.4V124.3M286.5 73.3V110.2M221.5 123.3V137.2M182.5 34.5V66.2M218.5 106.9V131.6M354.5 59.3V100M279.5 115.4V133.6M385.5 90.7V115M408.5 118.4V127.1M347.5 80.3V102.8M162.5 122.5V138M337.5 38.2V90.8M227.5 97.6V115.1M194.5 92.5V112.7M391.5 105.1V123.1M363.5 116.8V131M362.5 99V124.5M436.5 107.6V127.5M323.5 34.5V98.9M180.5 122.1V132.9M438.5 117.6V134.2M349.5 34.5V80.4M303.5 55.5V115.8M281.5 107.9V137.8M207.5 34.5V63.1M297.5 103V124.5M322.5 109V131.1M279.5 105.8V127.3M341.5 104.4V121.8M200.5 117V125.2M419.5 74.2V106M258.5 106.3V122.6M192.5 122.7V136.3M187.5 120.3V137.6M185.5 121.5V139M252.5 107.5V127.1M185.5 120.9V135.9M424.5 109V130.7M314.5 62V106.8M317.5 113.3V125.3M278.5 71.9V111.6M156.5 124.6V136.1M175.5 112.9V122.8M391.5 108.8V126.9M410.5 111.3V126.4M216.5 105.2V126M201.5 59.4V81.6M316.5 60.4V100.5M241.5 101.7V123.4M165.5 83.2V125.6M209.5 75.9V97.4M202.5 109.3V125.7M422.5 101.2V136.7M287.5 112.8V129.7M322.5 68.7V118.6M187.5 105.4V125.2M313.5 111.1V138M281.5 107.3V122.6M173.5 123.9V134.9M299.5 109.4V124.2M428.5 34.5V91.9M223.5 34.5V82.3M335.5 94.8V112.8M150.5 91.5V135.7M216.5 115.1V130M276.5 119.5V127.3M410.5 117.3V131.6M391.5 114.8V125M270.5 34.5V63.4M135.5 129.2V154.5M304.5 38.3V83.4M155.5 107V131.4M271.5 119.3V129.4M296.5 105.4V127.3M324.5 59.8V87.3M299.5 93.6V121M396.5 115V132.9M330.5 71.2V110.5M314.5 114.7V125.5M405.5 115.2V130.6M253.5 107.6V125M180.5 107.8V124.4M371.5 95.4V124.6M157.5 122V139.8M424.5 95.8V121.1M366.5 34.5V96.3M287.5 118.8V133.5M226.5 122.8V130.3M187.5 109.6V126.2M251.5 38.4V86.5M345.5 51.9V96.5M356.5 34.5V65M305.5 71.4V112.1M351.5 85.2V108.2M422.5 73V104M299.5 90.9V113.4M358.5 87V101.6M359.5 34.5V107.1M353.5 105.8V125M247.5 110.9V124.9M235.5 107.2V128.1M339.5 107.7V139.8M368.5 78.4V110.6M335.5 118.6V133.4M255.5 76.6V100.7M195.5 118.9V130.4M140.5 122.1V136.5M339.5 113.8V123.8M263.5 101.1V121.5M330.5 103.8V123.6M223.5 71.8V100.5M224.5 108.2V121.4M388.5 65V106.3M251.5 103.4V117.3M435.5 114.1V133.2M314.5 112.1V135.5M200.5 120.9V135.9M406.5 102.9V127.2M166.5 70.1V102.8M310.5 103.8V119.2M178.5 108.1V128.8M131.5 37.4V111.1M277.5 74.7V106.3M167.5 90.9V128.8M285.5 103.2V133.5M365.5 34.5V68.5M271.5 102V120.8M271.5 117.9V137.2M371.5 118.1V132.3M262.5 121.3V132.5M421.5 112.6V123.1M414.5 71.3V94.1M196.5 53.9V86M340.5 87.1V113.7M275.5 109.9V137.4M140.5 122.7V140M265.5 86.7V102.9M339.5 115.4V134.1M343.5 63.8V94.3M327.5 59.9V97.5M427.5 107.8V135.8M310.5 80.6V111.2M205.5 114.4V130.4M170.5 122V138M400.5 71.8V109.5M346.5 106.9V122.7M340.5 89.6V116.4M336.5 83.1V107.6M222.5 101.3V119.1M273.5 91.4V128.6M369.5 76.4V109M397.5 99.7V124.8M329.5 89.6V109.6M152.5 122.2V139.5M348.5 112.3V135.3M246.5 120.4V128.5M270.5 85.3V104.8M262.5 114.8V135.9M153.5 123.3V143.2M257.5 120.1V131.3M145.5 127.8V149.9M414.5 116.4V130.9M172.5 127.1V138.1M431.5 34.5V80.8M249.5 46.8V105.8M184.5 34.5V79.6M370.5 34.5V88.1M225.5 111.1V122.2M338.5 91.2V120.3M400.5 60.7V88.9M179.5 124.9V140.8M282.5 104.8V124M185.5 70.7V99.5M394.5 55.8V90.5M193.5 121.8V130.4M346.5 34.5V45.2M333.5 71.8V108.4M224.5 115.1V128.3M383.5 98.4V111.1M359.5 79.3V109.9M391.5 66.2V85.8M385.5 114.5V127.5M209.5 92.4V111.4M208.5 114.2V129.5M232.5 120.9V131.5M334.5 103.1V125.4M324.5 81.6V108.5M292.5 63.6V93.1M357.5 34.5V79.8M195.5 113.4V144.7M303.5 100.6V117.9M337.5 39.3V91.3M196.5 47V85.4M212.5 64.7V102.4M394.5 87.5V108.6M309.5 87.6V115.6M199.5 62.1V99.8M316.5 63.7V104.1M502.5 126.9V140M386.5 102.1V121.3M382.5 101.2V115.4M429.5 89.3V117.9M172.5 100.2V128.8M212.5 104.9V122.3M493.5 117.1V134.4M260.5 103.2V122.7M136.5 114.5V140.6M280.5 108.9V126.3M361.5 99.9V116.2M525.5 125.9V144.1M401.5 109.6V125.7M276.5 97.4V123.5M420.5 108V125.1M431.5 100.2V124.3M474.5 110.5V123.7M486.5 119V139.1M470.5 119V138.1M159.5 108.8V125.9M142.5 115.4V137.2M417.5 101.4V124.5M302.5 96.2V124.9M200.5 102.2V130.2M493.5 120.9V135.3M467.5 115V126.1M146.5 111.9V132M118.5 118.4V137.4M312.5 108.4V124.2M246.5 117.8V134.8M153.5 112.1V131.5M232.5 93.1V122.1M513.5 132.5V144M490.5 118.1V135M312.5 93.1V114.9M171.5 103.2V126.4M246.5 98.8V120.4M428.5 104V122.2M320.5 97V126.4M453.5 105.5V119M423.5 103.9V125.8M528.5 127V142.6M261.5 101.9V119.7M290.5 109.5V126.5M314.5 103.7V124.9M191.5 105.6V131.4M500.5 122.4V138M220.5 113.5V140.5M368.5 93.4V120.7M422.5 103V120.7M339.5 98.3V121.1M290.5 82.9V112.3M213.5 110.5V129.9M488.5 121.4V135.3M478.5 115.3V131M465.5 120.3V131.9M334.5 100V120.3M323.5 97.5V121.7M489.5 119.8V139M368.5 98.3V122.7M196.5 103.3V126.8M283.5 99.7V115.9M429.5 110.1V131.3M101.5 127.7V142.1M404.5 104V130.9M407.5 92.5V121.4M148.5 115.6V136.2M242.5 107.5V126.7M432.5 103.9V118.2M298.5 94.4V119.6M349.5 93.5V122.6M412.5 94.3V117.7M268.5 94.7V124M195.5 106.2V122.2M298.5 93.4V123.4M382.5 100.1V115M266.5 100.7V117.1M384.5 89V116.9M447.5 110.5V127.7M114.5 119.7V138M505.5 122V134M533.5 131.7V144.6M338.5 103.6V130.7M289.5 94.1V117.9M319.5 100.2V122.5M422.5 109.3V125.6M357.5 96.9V119.5M440.5 91V118.3M103.5 127.9V139M523.5 122.7V134.2M293.5 108.8V123.9M327.5 100.8V130.7M504.5 122.6V131.9M301.5 107.1V122M433.5 96.9V125.9M364.5 94.9V111.2M241.5 98.2V112.7M292.5 105V123.7M99.5 124.8V137.3M116.5 129.1V140M211.5 100.1V114.6M256.5 96V110.4M528.5 125.6V142.9M134.5 120.3V134.7M449.5 101.8V120M457.5 117V130.8M161.5 111.8V136.8M324.5 100.7V129.9M346.5 94.8V111.5M193.5 101.3V127.1M409.5 103.9V119.4M479.5 114.7V132.2M481.5 121.6V134.9M312.5 95.1V122.1M117.5 121V138.5M501.5 121.4V130.6M388.5 105.1V122.2M368.5 103.6V130.1M149.5 105.1V119.7M113.5 124.7V140.6M326.5 109.6V128M422.5 96.1V123M119.5 126.3V136.9M509.5 125.7V138.2M451.5 103.2V129.4M281.5 98.8V124.8M400.5 93.4V113.2M378.5 105.2V120.5M440.5 106.2V131.6M334.5 110.3V126.2M476.5 110.2V130.6M119.5 126.9V136.6M384.5 80.9V106.3M119.5 127V138.3M140.5 115.6V131.4M121.5 123.6V144.1M344.5 90.7V115.4M396.5 91.4V109.9M324.5 101.9V127.9M365.5 106.2V126.1M227.5 94.1V120.2M311.5 98.2V128.1M362.5 102.6V126.2M347.5 96.7V118.9M472.5 115V135.8M107.5 124.1V136.3M135.5 117.3V139.1M215.5 102.7V123.5M415.5 105.1V125.8M166.5 115.4V138M404.5 102.3V130.4M212.5 104V124M286.5 85.6V115M440.5 103.8V130.1M178.5 107V134.6M151.5 114V130.7M223.5 91.3V111.9M388.5 99.8V117.4M430.5 90.1V108M176.5 111.3V139.8M238.5 108.6V125.3M408.5 92.8V115.3M530.5 130.6V145.4M233.5 94.3V114.8M492.5 120.8V138.1M430.5 93.3V119.6M102.5 122.9V135.4M502.5 121.3V137.4M391.5 107.1V125.8M112.5 120.5V138.6M399.5 93.5V121.8M270.5 106.2V120.3M234.5 109.1V123.5M311.5 96.1V120.8M103.5 133V142.3M421.5 103.6V118.5M442.5 92.5V116.5M223.5 91V116.6M529.5 124.3V139M189.5 116V130.9M246.5 101.6V120.9M237.5 102.2V125.1M219.5 93.5V120.7M288.5 99V119.6M518.5 123V139.3M204.5 106.8V135.1M310.5 95.7V109.8M250.5 102.4V123.6M279.5 102.5V127.3M279.5 103.9V126M225.5 102.8V122.2M219.5 103.3V118.4M458.5 104.4V127.6M233.5 95V119M224.5 105.1V128.9M338.5 108.4V126.8M344.5 99.7V115.9M531.5 125.4V142.9M508.5 121.4V137.6M316.5 94.3V118.2M511.5 124.8V137.8M178.5 101.6V125.4M457.5 116.6V129.2M319.5 96.3V121.5M458.5 109.9V123.6M147.5 125.9V141M316.5 100.3V123.1M335.5 107.5V122.4M466.5 121.7V132.6M451.5 117.6V133.4M166.5 112.4V135.4M119.5 121.8V132.2M137.5 113.6V127.8M158.5 103.6V125.8M470.5 105.5V126.1M192.5 97.6V115.7M344.5 104.2V126.6M514.5 124V137.5M289.5 102.5V120.7M121.5 129.3V141.9M435.5 96V119.7M410.5 96.8V126.4M340.5 104.1V120.8M102.5 125V143.2M268.5 95.9V113.6M380.5 100.9V115.9M388.5 95.4V115.2M144.5 111.6V131.1M305.5 100.9V127.2M480.5 111.2V131M480.5 121V138.5M230.5 106.5V130.5M362.5 90.5V118.4M255.5 108V122.5M239.5 109.7V126.9M352.5 108.9V134.8M305.5 102.4V118.9M119.5 122.3V140.7M416.5 105.4V127.4M219.5 107.9V132.7M484.5 106.1V120.6M358.5 96.6V119.7M292.5 101.4V122.6M523.5 129.5V139.2M459.5 117.1V128.5M475.5 110.4V125.5M525.5 121.9V138.8M168.5 116.2V141M115.5 125.7V143.6M106.5 122.9V140.1M150.5 116.4V137.3M302.5 99.8V121.1M245.5 111.6V126.1M210.5 100.9V125M374.5 96.5V121.3M176.5 117.7V140M334.5 100.7V117.8M156.5 108.1V125.6M423.5 104.8V134.7M241.5 110.1V126.1M283.5 101.3V121.4M179.5 105.9V135.1M446.5 99.6V126.4M133.5 111.1V129.3M241.5 106.7V132.9M316.5 97.6V114.2M468.5 111.7V130.2M348.5 101.6V125.4M414.5 94.3V109.2M527.5 131.7V145.3M456.5 99.3V122.9M183.5 103V129.2M430.5 97.6V117.1M496.5 121.7V137.6M292.5 96.6V121.6M294.5 110V129.9M184.5 96.1V118.1M518.5 121.6V139.1M238.5 86.2V107.8M304.5 109V127.4M487.5 121.7V134.3M485.5 118.9V128.8M331.5 105.3V121M156.5 116.5V143.4M181.5 113.3V131.2M239.5 100.3V115.3M325.5 111.8V129.1M389.5 98.5V115M121.5 123.3V140.8M453.5 98.8V120.9M353.5 95.6V120.4M334.5 102.2V118.4M171.5 102.5V117.2M452.5 110.1V122.7M480.5 118.3V130.9M460.5 111.1V129.5M430.5 100.2V120.9M494.5 119.2V134.5M380.5 101.6V126.9M213.5 107.2V130.3M319.5 103.7V129.8M425.5 99V113.7M500.5 126.7V139.4M220.5 100.1V122.7M389.5 96.6V121.9M486.5 119.8V131.8M177.5 94.7V124M429.5 95.2V117M393.5 96.6V124.6M516.5 127.3V141.3M121.5 124.3V139.3M191.5 102.9V132.8M534.5 125.1V136.8M265.5 100.1V119.9M349.5 103.4V117.5M272.5 119.8V134.5M461.5 112.5V135.2M401.5 96.5V112.6M485.5 118.7V129.8M383.5 94.1V120.5M463.5 115.1V137.4M247.5 100.1V124.3M148.5 123.8V148.6M365.5 85.9V102.6M342.5 92.7V109.8M290.5 105.4V121.6M429.5 97.8V127.6M366.5 90.9V120.3M312.5 105V133.5M234.5 93.7V121.3M117.5 131.1V140.9M250.5 97.9V124.2M328.5 107.1V122.4M207.5 98.6V114M116.5 125.6V136.6M504.5 115.4V128.5M349.5 97.5V118.6M420.5 107.2V124.3M367.5 97.7V112.4M387.5 93.5V117.1M405.5 99.8V114.2M139.5 116V132.5M199.5 99V126.2M383.5 89.9V114M116.5 124.2V135.1M260.5 96.8V120.8M494.5 118.9V136.7M285.5 95.1V125M341.5 86V115.7M526.5 128.5V142.2M472.5 119.5V139.6M247.5 107.4V129.1M325.5 100.5V129.2M112.5 121.8V136.1M351.5 96.6V121.9M284.5 106.5V125.6M321.5 95.9V122.3M451.5 102.8V115.9M389.5 99.8V125.7M103.5 124.6V141.1M449.5 97.8V124.6M488.5 124.8V144.4M523.5 128.2V138.5M215.5 102.1V130.6M128.5 114.9V130.5M439.5 96.8V116.8M484.5 120.8V137.8M187.5 107.8V132.8M119.5 127.5V141.1M124.5 116.8V134.5M464.5 116.6V133.4M458.5 108.9V122.1M499.5 122.3V134.7M376.5 104.4V119.1M343.5 92.2V121.7M350.5 82.7V99.8M286.5 103.3V118.4M353.5 88.9V107.4M99.5 129.3V140.8M503.5 120.7V138.9M331.5 94V122M169.5 112V129.7M317.5 103.2V118M510.5 126V141M139.5 111.4V130.8M500.5 126.9V139.2M263.5 90.1V114.2M372.5 99.5V122.6M105.5 128.6V138.9M163.5 108.3V123.3M165.5 119.6V144.1M105.5 126.3V144.2M363.5 98.5V125.8M337.5 97.3V119.2M438.5 99.2V120.8M127.5 121.7V136.6M490.5 122.5V140.1M238.5 93.1V123M412.5 97.3V116.6M396.5 101.1V122.6M498.5 123.7V135.9M169.5 103.7V122.1M292.5 107V133.6M126.5 122.3V138.3M324.5 109.4V129.1M191.5 102.1V130M277.5 108.9V131.8M211.5 92.7V117.8M283.5 107.8V129.5M349.5 98.5V128.3M442.5 101V128.1M454.5 102.7V126.9M391.5 109.8V126.1M497.5 121.2V135.6M250.5 106.4V129M523.5 127.1V139M132.5 120.1V141.7M400.5 110.2V124.5M519.5 127.1V136.5M303.5 105.2V125.8M530.5 129.8V144.7M473.5 121.4V134.7M200.5 100.8V128.5M353.5 100.8V128.9M247.5 115.8V130.5M162.5 105.6V133.9M255.5 97.8V123.8M224.5 91.7V120.9M353.5 102.7V118M523.5 127.3V145.4M357.5 101.1V121.3M418.5 106V130.2M188.5 111.9V126.2M413.5 99.9V123.6M291.5 99.2V128.4M483.5 120.8V136.3M314.5 91V113.7M446.5 115.9V137.5M332.5 94.6V151.9M149.5 90.6V165.9M296.5 99.8V140.9M357.5 89.9V137.1M388.5 91.2V147.8M347.5 96.7V148.3M387.5 95.7V138.4M289.5 98V149.6M381.5 91.8V141.7M320.5 99.4V152.4M513.5 93V175.8M194.5 91.5V151.9M321.5 100.3V139.5M312.5 93.7V160M403.5 79.1V154.6M185.5 85.1V156.5M252.5 92.2V161.6M260.5 93.3V144.6M207.5 91.2V146.9M339.5 93.4V140M237.5 83.9V158M415.5 95.9V140.6M361.5 99V138M498.5 102.6V161M416.5 101.1V130M208.5 94.7V150.9M288.5 90.2V140.3M382.5 83.6V154.2M182.5 111.1V147.1M308.5 73.1V154.9M384.5 72.5V152.2M353.5 106.4V141.9M179.5 99.1V160.4M250.5 91.7V148.4M250.5 99.8V131.7M321.5 101.8V136.3M237.5 95.8V144.8M436.5 96.1V152.9M510.5 106.1V178.1M156.5 109.4V143.1M512.5 105.1V164.1M225.5 100.8V142.6M360.5 90.5V138.4M427.5 102.6V148.5M279.5 110.9V145.9M435.5 87.2V164.5M191.5 95.7V152.7M150.5 97.2V173.8M130.5 117.7V157.7M226.5 80V155.2M256.5 96.8V156.3M265.5 87.1V167.6M231.5 93.4V154.8M302.5 100V153.3M300.5 87.4V147.4M346.5 89.6V151M237.5 103V131.2M240.5 80.3V154.9M242.5 90.7V145.4M416.5 108.9V138.5M455.5 83.5V161.4M348.5 101.7V145.4M434.5 102.5V135.2M387.5 95.8V136.8M430.5 104.9V145.5M382.5 87V138.7M453.5 102V147.2M425.5 100.8V130.5M429.5 94.3V132.7M372.5 85.6V150M213.5 90.2V154.8M421.5 96.4V148.4M157.5 99.3V176M284.5 93.6V145.1M215.5 96.9V159.8M203.5 98.1V151.1M165.5 96V161.5M323.5 104.3V137.6M372.5 100.5V135.6M418.5 96.7V127.2M142.5 116.8V151.3M325.5 90.2V159.8M432.5 86.7V154.8M380.5 91V137.2M245.5 84.5V166M340.5 79.5V156.4M183.5 96.2V163M267.5 106.8V136.7M348.5 101.6V138.2M271.5 80.1V162.2M134.5 104.3V163.5M392.5 96.7V144.2M281.5 93.7V149.7M158.5 119.9V150.1M164.5 99.4V167.5M163.5 121.6V151M205.5 84.1V165M194.5 89.9V155.8M277.5 104V144.4M221.5 102.9V144.2M137.5 123.9V160.3M214.5 102.6V133.5M271.5 82.4V164.2M221.5 88.2V167M204.5 84.8V164M347.5 96.1V147.6M446.5 87.4V169.1M186.5 94.6V157.7M195.5 96V160.7M159.5 112V147M298.5 103V152M502.5 118.9V158M381.5 92.1V145.4M371.5 81.8V158.2M205.5 111.1V146.1M348.5 91.8V139.6M334.5 86V143.8M131.5 104.1V163M525.5 119.7V154.4M274.5 99.2V156.8M353.5 96.9V154.5M530.5 105.4V169.4M188.5 88.7V160.6M325.5 102.3V150.7M190.5 98.8V157.5M298.5 89.5V159.4M152.5 99.3V168.8M323.5 102.5V150.1M333.5 162.5V203.9M408.5 213.1V242.2M231.5 206.3V224M322.5 182.9V200.5M239.5 204.6V227.1M281.5 185.2V203.4M258.5 193V211.3M304.5 168.9V193.9M333.5 198.4V223.4M284.5 175.1V189.8M402.5 177.1V214.1M374.5 174.8V187.2M226.5 168.5V199.7M221.5 187.5V228.8M303.5 191.4V210.8M337.5 166.9V185.7M360.5 187.6V200.4M401.5 216.1V245.4M265.5 168.4V186.6M248.5 176.4V204M261.5 170.5V185.2M361.5 198.7V216M225.5 178.3V206.2M403.5 216.2V246.5M339.5 165.9V188M376.5 176.8V213.4M253.5 177.3V202.6M306.5 176.8V190.7M307.5 183.3V195.3M341.5 165.6V198.3M296.5 166V194.2M251.5 206.9V225.7M349.5 200.5V223.8M292.5 204.9V228M357.5 206.4V250.7M408.5 206.8V263.4M309.5 202.8V218.8M295.5 166V193.4M384.5 154.5V200.6M345.5 179.8V210.8M277.5 169.7V192.6M366.5 185.9V209.7M321.5 197V221.1M340.5 180V199M391.5 186.2V226.6M352.5 180.6V208.6M323.5 181.1V199.8M333.5 187V205.1M228.5 204.7V242.9M389.5 176.8V246.7M280.5 192.8V224.1M348.5 169.6V193.1M334.5 183.2V221.5M297.5 172.1V182.5M294.5 222.6V258.9M295.5 208.1V228.3M378.5 178V209.8M354.5 199.9V230M256.5 173.7V199.6M342.5 179.2V191.5M241.5 169.8V189.5M365.5 181.8V195.7M327.5 165.1V193.7M312.5 212.1V228.3M230.5 192.9V216.5M354.5 214.7V259M231.5 218.7V243.1M399.5 160.7V197.6M221.5 185.6V201.9M392.5 172.8V191.2M246.5 181.7V203.2M365.5 176.1V199.1M411.5 198.9V217.2M340.5 179.5V206.5M279.5 189.2V214.7M323.5 157.1V198.3M248.5 220.4V235M273.5 167.5V192.8M353.5 169.5V195.6M211.5 186V209.2M238.5 207V231.6M322.5 183V216.1M243.5 180.7V198.1M413.5 166.3V203.5M344.5 178.8V213M354.5 185.8V209.1M333.5 170V194.6M376.5 189.2V214.7M365.5 202.6V253.5M221.5 185.3V217.2M242.5 186.5V202.9M262.5 174.1V192.3M333.5 180.8V210.8M371.5 174.7V197.9M209.5 196.3V213.9M239.5 173.5V199M409.5 179.5V211.4M321.5 212.9V242M235.5 221.8V247.1M285.5 175.1V196.1M237.5 197.6V215.6M285.5 215.8V260.4M374.5 166.7V187.2M325.5 203.8V232.4M331.5 220.9V246.3M384.5 202.7V226M344.5 215.2V252.4M296.5 162.7V218.3M323.5 173.6V193.9M224.5 211.9V246M404.5 194.1V226.4M232.5 188.2V210.9M264.5 165.1V187.1M376.5 204.9V225.1M382.5 179.2V190.5M237.5 202.5V233.1M378.5 165.9V193M301.5 195.4V212.8M246.5 196.6V210.7M267.5 179.8V205.5M361.5 181.6V204.9M402.5 204.9V227M228.5 211.6V262.4M341.5 188.1V247.5M295.5 166.9V191.9M322.5 185.5V199.6M383.5 197.7V224.1M402.5 189.9V223.1M387.5 177.6V197.2M295.5 172.7V200.8M301.5 192.6V222M315.5 178.9V198.9M243.5 177.6V200.3M241.5 163.1V191.4M375.5 196.4V247.8M224.5 172.1V198.7M296.5 163.8V199.6M222.5 225.9V261.2M307.5 168.4V186.9M217.5 172.7V188.9M307.5 175.1V191.5M239.5 179.4V196.2M325.5 174.1V184.8M274.5 163.4V194.1M370.5 190.7V225.6M235.5 197.3V248.6M267.5 178.6V206.1M348.5 164V192.3M391.5 176.7V211.8M317.5 179V196.7M328.5 171.4V196M318.5 163.8V189.1M364.5 207.6V230.7M386.5 170.9V201.5M242.5 177.9V207.6M348.5 192.6V209.1M379.5 191.7V239.8M390.5 189.1V217.9M227.5 162.5V194M286.5 168.9V188.6M381.5 161.4V185.4M391.5 177.6V197.1M277.5 176.6V194.1M273.5 168.4V197M326.5 174.4V200.2M413.5 164.7V194.2M288.5 159V189M247.5 174V197.1M206.5 168.4V192.6M309.5 165.3V188.8M395.5 158.6V184.4M340.5 162.6V188.6M227.5 164.8V191.6M310.5 168.7V190.2M250.5 171.1V198.4M210.5 178.8V196.6M418.5 176.9V196.7M297.5 178.9V202.9M269.5 181.3V203M266.5 166.1V193.8M326.5 166.9V181.2M333.5 166.5V191.9M352.5 177.4V195.2M292.5 168V190.5M239.5 159.4V178.6M414.5 172.9V202M234.5 180.8V196.2M308.5 163.3V179.2M232.5 180.3V207.5M215.5 179.4V195.8M258.5 159V176.7M378.5 165V180M409.5 170.4V193M361.5 177.7V202.6M244.5 167.9V192.3M276.5 165.8V192.9M323.5 172.8V199.7M283.5 175.6V197.9M393.5 171.4V198.9M396.5 179.5V195.7M268.5 168.6V197.6M237.5 173.9V197M208.5 168.5V196.2M314.5 164.8V192.5M290.5 177.6V204.3M346.5 162.1V191.3M293.5 172V196.3M414.5 174.1V192.6M285.5 169.9V193M371.5 173.5V188.9M367.5 174.6V199.3M311.5 183.1V210.6M300.5 178.5V201.3M333.5 178.7V202.5M278.5 167V184.5M342.5 163.8V186.9M226.5 170.4V190.4M389.5 167.6V189.7M408.5 188.2V205.4M381.5 177.8V194.5M227.5 158.7V186M344.5 163.8V188M343.5 180.7V197.9M342.5 164.9V192.6M292.5 170.9V196.6M404.5 171.3V190.1M221.5 174.6V193.3M243.5 174.4V193.3M278.5 167.9V189.2M204.5 175.7V192.1M247.5 175.6V194.9M325.5 177.3V198.1M242.5 177.8V200.2M292.5 176.2V204.6M281.5 179.6V201.5M263.5 159.6V188.3M359.5 164.6V192.8M254.5 161.5V191.4M267.5 169.7V196.9M343.5 181V198.5M259.5 180.4V201.9M269.5 172.1V198.2M359.5 172.4V188.7M402.5 175.9V196M410.5 174.2V200.5M242.5 177.1V200.5M409.5 173V194M240.5 178.3V193.2M402.5 168.6V194.9M249.5 175.6V195M380.5 166.5V188.9M411.5 166V181.8M377.5 163.7V184.4M291.5 174V189.9M222.5 175.6V197.6M248.5 179.6V194.2M378.5 171.4V191.7M350.5 172.3V194M401.5 171.1V185.4M270.5 163.5V182.7M323.5 170.1V185.6M275.5 176.2V194.8M246.5 166.5V182.7M306.5 175.3V194.3M236.5 169.5V194.7M220.5 173.5V193.2M247.5 175.2V202.2M250.5 158.2V183.3M223.5 171.9V189.3M289.5 168.9V193.9M213.5 169.6V199.4M398.5 167.5V192.2M365.5 172.5V200.1M223.5 186V207M411.5 167.1V188M304.5 166.1V190.6M389.5 158V182.1M213.5 160.9V185.9M242.5 177.3V192.7M279.5 174.4V201.3M364.5 177.3V199.7M377.5 170.7V193.5M368.5 175.6V191.1M268.5 178V196.4M280.5 166.5V182.5M324.5 170.2V187.9M269.5 170.7V195.9M273.5 171.8V199.3M250.5 178V192.8M119.5 209.9V250.3M525.5 269V317.4M442.5 172.9V224.2M148.5 184.8V244.4M451.5 199.8V239.8M155.5 179.6V320.2M101.5 234V296.7M506.5 237.2V277.7M480.5 189.9V226.4M509.5 238.6V306.8M516.5 203.5V224.9M108.5 244V263.4M106.5 217.7V276.6M144.5 255.3V278.3M190.5 190.5V267.2M484.5 218.8V293M533.5 225.5V276.5M138.5 222.3V243.4M422.5 184.4V228.2M135.5 208.2V245.1M128.5 195.1V233.4M461.5 178.5V266.8M472.5 200.9V241.3M534.5 223.6V268.7M169.5 235.9V305.3M152.5 268.3V413.3M112.5 200.7V245.3M140.5 202.2V247.1M456.5 193.7V316.1M463.5 228.7V273.7M103.5 223V256.9M468.5 206.4V245.9M502.5 198.8V233.7M497.5 255.9V318.1M462.5 221V285.5M162.5 212.6V241.9M109.5 278V325.8M166.5 259.4V310.3M453.5 180.9V245.3M100.5 223.1V282.5M503.5 200.6V238.5M469.5 214.9V319.5M488.5 234.2V311M502.5 191.6V228.7M118.5 196.6V236.5M467.5 199.9V231M519.5 241.3V288.7M524.5 267V300.5M488.5 190V226M434.5 186.2V296.3M531.5 200.8V243M528.5 239.3V302.6M503.5 228.3V291.8M185.5 195.2V259.7M136.5 211V235.1M472.5 231.5V301.4M465.5 215.4V321.5M421.5 166.6V215.6M118.5 210.6V243.5M461.5 184.3V226M148.5 210.5V291.7M485.5 188.7V223.4M475.5 230.5V266.9M100.5 217.9V320.6M206.5 178.2V197.9M454.5 195V243.7M110.5 221.5V284M138.5 236.2V276.8M486.5 211.3V245.7M108.5 236.2V257.5M130.5 237.8V294.6M446.5 193V222.7M509.5 200V223.7M490.5 217.3V261M431.5 185.1V246M519.5 218.4V250.3M163.5 158.2V250.1M503.5 223.9V285.6M454.5 196.8V268.8M141.5 190.9V220.5M435.5 179.7V226.3M492.5 188.7V238.7M521.5 229.3V282.5M151.5 148.5V320.2M113.5 233.7V281.9M483.5 211.9V264.7M101.5 203.4V245.7M487.5 198.9V256.3M171.5 202.1V258.3M472.5 212.1V269.7M106.5 220.4V246.4M460.5 176.6V236.6M521.5 246.9V296.1M155.5 190.8V210.9M185.5 199.5V223M188.5 170.4V216.7M163.5 205V317.3M474.5 190V246.1M99.5 285.4V349.5M470.5 210V244.8M151.5 255.9V312.3M434.5 210.2V233.4M512.5 208V228M526.5 205.5V239.8M143.5 244.8V307.1M474.5 209.7V269.1M519.5 198.9V296.8M439.5 193.8V248.7M164.5 219.6V309.7M105.5 211.4V299.1M527.5 211.4V234.4M120.5 208.5V220.7M135.5 209.4V242.8M530.5 193V288.7M491.5 173.6V231.6M151.5 220.1V287.6M466.5 209V250.7M458.5 252.8V319.4M138.5 215V237.3M166.5 219.2V255.2M112.5 231.8V343.5M153.5 184V214.1M493.5 270.6V337.9M473.5 210.7V276M482.5 243V334.6M111.5 227.8V266.5M111.5 194.8V242.1M119.5 223V294.6M472.5 255.2V317M114.5 232.8V300.9M506.5 266.7V311.4M118.5 307.3V355.6M121.5 223.4V280M461.5 223V257.9M480.5 219.8V293.1M145.5 210V339.7M114.5 207V266.3M106.5 225.6V247.9M101.5 229.4V260.4M500.5 225.5V259.3M145.5 217.2V253.1M526.5 215.2V260.3M485.5 213.1V243M521.5 248.7V302.2M533.5 206V236.7M128.5 203.6V223.9M444.5 182.5V248.8M146.5 223V255.9M511.5 263.7V316.1M111.5 201.2V242.1M525.5 196.7V228.5M174.5 175.3V226.1M491.5 200.4V228.4M113.5 239V342.3M468.5 236.9V289.5M194.5 175V233.1M524.5 219.8V259.7M439.5 214.2V255.3M126.5 188.7V225.6M515.5 229V359.9M161.5 186.3V220.5M99.5 219.9V267.8M201.5 227.2V288M114.5 203.4V293.8M146.5 184V252.8M515.5 220.6V238.4M496.5 266.3V360.2M132.5 209.8V276M429.5 209.7V244.4M105.5 179.6V276.4M519.5 207.5V228.7M507.5 210V259.4M142.5 208.3V231.8M156.5 257.3V290.1M151.5 213.1V248.8M466.5 183.5V237.6M517.5 205.5V233.3M111.5 224.8V264.1M150.5 218.7V245.4M162.5 197V238.3M477.5 216.9V255M125.5 217.4V253.9M461.5 216.8V260.1M485.5 199.8V239.3M128.5 236.3V288.7M492.5 258V314.4M100.5 245.5V266.6M103.5 257.2V313.6M170.5 217.9V292.7M162.5 195.4V232.4M503.5 209.2V269.6M127.5 222.6V263.7M507.5 230.7V276.5M448.5 192.9V230.9M163.5 180.7V206.7M436.5 179.4V225.9M127.5 207.5V241.5M425.5 179.2V212.9M417.5 169.4V218.8M110.5 196.2V232.3M492.5 223V250M141.5 211.6V261.7M528.5 252.4V281.9M112.5 221.1V274.5M481.5 184.2V223M495.5 204.6V222.1M158.5 210.4V250.1M459.5 219.5V305.2M141.5 210.1V223.8M530.5 210.8V233.6M190.5 195.7V234.4M113.5 255.8V340.5M498.5 238.1V314.9M533.5 216.6V259.2M436.5 206V337.6M432.5 188.2V269.9M471.5 175.3V229.1M150.5 177.4V222.6M126.5 206.3V311.3M129.5 248.5V328.6M483.5 194V222.9M140.5 202.5V252.4M460.5 271.9V319.2M434.5 183.9V225M99.5 217.8V273.4M490.5 194.7V224.9M165.5 247V284.3M517.5 208.9V246.3M118.5 211.6V251.2M432.5 194.4V281.6M465.5 246V324.3M477.5 173.6V241.1M498.5 272.3V354.7M156.5 181.6V235.7M126.5 278.5V365.7M127.5 255.2V334.4M138.5 197.2V258.4M119.5 288.2V365.7M114.5 248.6V299.3M534.5 215.4V236.4M480.5 193.7V241.5M134.5 228.2V278.2M464.5 214.4V262.5M181.5 197V235.2M133.5 234.2V261.6M477.5 196.3V223.1M119.5 215.8V281.9M116.5 191.5V225.8M143.5 187.8V220.5M183.5 209.1V238M125.5 193.4V238.3M133.5 198.5V252.3M457.5 240.5V332.5M460.5 213.2V377.2M522.5 235.6V292.4M100.5 264.4V301.3M488.5 212.7V413.5M467.5 224V273.2M519.5 147.1V411.1M105.5 225.6V260.9M456.5 219.9V254.3M438.5 184.2V265.8M485.5 238.8V321.7M116.5 309.2V367.5M129.5 198V251.1M490.5 176.3V229.3M519.5 199.3V253M186.5 183.1V226.4M106.5 226.8V345.6M513.5 236V268.8M437.5 226V364.7M104.5 252.3V310.5M518.5 235.7V290.5M104.5 218.1V259.4M442.5 209V253.1M526.5 253.9V311.3M137.5 215.7V310.8M146.5 207.9V242.9M113.5 262.2V313.9M140.5 206.1V234.2M435.5 202.7V264.5M499.5 220V271.1M528.5 284.8V308.5M156.5 212.3V255.1M196.5 201.2V228.9M497.5 251.1V319.7M445.5 229.3V266.4M439.5 203V245.7M514.5 228.6V308.4M100.5 222.6V267.8M460.5 174.9V232.1M168.5 213.8V239.2M103.5 187.8V262M165.5 188.5V202.1M152.5 196.3V234.5M472.5 245.5V313.3M527.5 189V233.4M449.5 222.4V270.6M528.5 198.2V235.9M107.5 232V263.9M498.5 243.3V331M103.5 234.7V267.9M102.5 216V254.4M496.5 219.5V249.6M120.5 202.1V247M136.5 230.9V310.5M524.5 226.8V266M494.5 254.1V326.7M169.5 183.7V223.6M528.5 211.5V276.3M513.5 262.1V302.6M122.5 220.5V256.5M137.5 180.6V250.4M485.5 197.5V227.5M187.5 184.4V208.4M496.5 224.7V256.1M485.5 212.4V249M104.5 273.4V344.4M169.5 192.8V229.5M514.5 222V263.2M465.5 207.6V247.6M437.5 242.9V291.5M114.5 230.6V248.9M130.5 230.2V263.5M132.5 294V354.7M532.5 203.6V241.7M440.5 227V257.5M176.5 197V238.6M490.5 222.6V268.9M496.5 230.8V274.5M446.5 223.2V250.8M112.5 219.4V240.5M158.5 197.3V207.5M417.5 173.9V211.5M113.5 207.2V274.6M517.5 257V304.6M107.5 236.9V273M144.5 226.2V277.1M162.5 191.1V206.3M111.5 238.5V263.2M444.5 204.4V335.9M137.5 204.6V222.9M131.5 205.5V254.2M129.5 224.5V285.1M140.5 211.2V265.9M475.5 220.9V242.9M465.5 196V222.6M429.5 209.2V250.1M141.5 184.5V248M523.5 247.7V270.7M533.5 196.5V230.5M154.5 191.1V226.5M134.5 201.5V220.9M502.5 239.5V331.1M136.5 195.7V264.8M165.5 176.9V290.8M488.5 243.7V290.2M464.5 235.1V292.6M496.5 234.9V316.7M442.5 202.4V248.3M533.5 234.3V272.3M486.5 183.2V224M453.5 235.6V264.7M109.5 219V301.4M484.5 213.7V285.6M473.5 202V247.7M178.5 193V314.9M528.5 228.8V342.9M481.5 236.4V265.4M442.5 217.2V255.5M507.5 234.2V262.1M136.5 207.6V225.9M124.5 229.6V275.9M455.5 231V255M489.5 178.9V245.5M139.5 196.6V235.8M527.5 216.1V251.4M140.5 268V348.4M499.5 237.8V288.5M494.5 250.9V296.3M424.5 183.6V204.9M521.5 215.3V248.8M108.5 274.6V306.4M129.5 193.1V237.3M148.5 199.1V231.4M149.5 234.6V259.2M105.5 212.9V262.1M442.5 193V237.1M417.5 181.5V215.3M484.5 222V256.9M123.5 205.1V255M123.5 263.8V314.2M505.5 198.7V240M136.5 197.2V253.4M529.5 199.8V261.1M505.5 206V231.8M133.5 239.8V295.3M438.5 204.5V272M477.5 217.3V264.1M484.5 238.8V262.1M429.5 190.8V217.5M492.5 235.5V249.6M490.5 247.3V297.4M494.5 244.4V281.5M476.5 215V251.6M121.5 276.2V420.7M530.5 215.4V272.5M469.5 230.3V252.6M162.5 188.8V229.4M504.5 205.2V264.1M451.5 274.8V332.5M127.5 245V267.7M514.5 198.4V298.2M429.5 192V254.8M525.5 211.1V239.4M178.5 262.8V298.1M505.5 197.8V228.6M505.5 284.5V368.1M107.5 209.5V304.7M450.5 197.4V259.3M460.5 182.1V247.7M491.5 210.7V258.7M173.5 268.3V294.7M189.5 219.6V278.3M507.5 198.9V229M100.5 262.4V293.1M136.5 250V297.9M465.5 193V267.1M129.5 199.7V252.6M448.5 237.1V304M484.5 260.6V308.4M450.5 220V306.4M523.5 214.4V243.6M172.5 232.2V266.8M453.5 232.4V300.4M447.5 201.5V241.9M131.5 231V277M497.5 203.5V235.6M207.5 189.1V221M432.5 209.3V260.3M102.5 203.5V230M507.5 234.8V288.9M145.5 309V365.1M496.5 238.2V339.3M520.5 248.1V350.6M185.5 202.9V282.1M137.5 217.8V267.3M178.5 201.3V271.5M491.5 167.2V321.4M137.5 220.9V256.9M100.5 208.6V294.7M154.5 174.7V220.8M445.5 291.6V356.5M139.5 246.5V272.2M473.5 264.5V313.5M159.5 194.6V262M203.5 179V214.5M152.5 207.5V251.4M516.5 202.3V226.3M166.5 224.4V301.6M455.5 190V246.8M501.5 238.2V293.9M470.5 236.5V270.5M462.5 197.2V287.9M423.5 192.4V230.4M111.5 211.5V234.2M490.5 230.2V275M520.5 206.3V247.7M474.5 179.9V274.5M428.5 158.3V281.5M534.5 243.6V289.8M531.5 221.1V264.1M495.5 257.8V340.4M100.5 198.2V223.7M172.5 210.1V251.1M129.5 207.2V253.2M462.5 217.4V261.9M531.5 284.9V347.2M99.5 244.8V311.7M147.5 188.8V261.6M500.5 240.1V285.8M112.5 297.7V365.4M495.5 207.9V241.1M533.5 277.8V445.5M450.5 350.6V428.2M436.5 342.5V445.5M111.5 389.9V445.5M108.5 232.8V284.3M534.5 336.5V424.1M527.5 251.6V334.3M529.5 234.5V277.5M482.5 388.1V445.5M165.5 294.2V412.3M461.5 316.5V440M449.5 347.2V404.7M462.5 305.7V445.5M522.5 214.3V316.1M527.5 360.8V445.5M446.5 336.2V445.4M521.5 382.9V445.5M134.5 275.1V327.4M467.5 368.6V445.5M108.5 298.7V338.3M193.5 242.6V348.9M468.5 270V378.2M481.5 245.9V316.1M505.5 300.5V366.5M480.5 304.7V364.6M473.5 299V445.5M492.5 235V333M166.5 324.4V434.8M479.5 246.7V332M464.5 294.5V371.2M480.5 231.5V285.7M118.5 289.2V400.3M526.5 248.3V306.3M105.5 407.9V445.5M531.5 413.8V445.5M105.5 350.9V439.6M117.5 339.8V430.9M475.5 414.1V445.5M154.5 210.5V383.4M176.5 296.3V426.4M532.5 306.9V370.8M486.5 362.9V445.5M439.5 227.1V290.6M527.5 240.9V321.2M467.5 276.8V341M446.5 241.8V354.5M480.5 306.7V435M180.5 310.2V441.9M135.5 286.1V361.3M466.5 354.8V445.5M467.5 240.6V283.9M437.5 275.4V321.9M139.5 326.2V418.4M478.5 306V386.9M486.5 354.5V394M111.5 243.3V312.5M463.5 246.9V306.8M439.5 305.7V392.3M107.5 265.4V427.9M462.5 378.4V445.5M526.5 358.5V445.5M493.5 271.9V445.5M187.5 258.9V326.3M179.5 243V390.8M492.5 412.8V445.5M182.5 284.3V429.7M492.5 336.9V406.7M436.5 319.4V445.5M523.5 257.3V316.5M163.5 280.7V351.1M440.5 270.1V392.9M105.5 342.1V407.9M103.5 272.2V328.1M528.5 334.2V416.5M468.5 295.6V445.5M446.5 344.7V423M521.5 275.8V313.8M533.5 362.9V440.8M439.5 386.9V445.5M106.5 369.9V445.5M121.5 346.3V445.5M102.5 245.8V274.2M114.5 366.7V445.5M169.5 321V422.3M129.5 255.9V297.8M188.5 224.6V309.6M189.5 284.7V430M470.5 256.3V445.5M100.5 363.8V445.5M107.5 221.9V315.3M106.5 237.1V305.5M464.5 299.1V411M513.5 372.8V441.3M532.5 326.6V445.5M465.5 358V445.5M177.5 219.4V302.3M469.5 370.9V445.5M107.5 276.1V363.5M495.5 250.6V321.3M108.5 433.9V445.5M145.5 268.6V323.8M439.5 326.5V445.5M111.5 240.1V342.3M101.5 263V363.5M451.5 253.5V335.6" stroke-width="1.4"/><path d="M206.5 303h0M255.5 265h0M300.5 348.4h0M314.5 240h0M331.5 243h0M363.5 292.4h0M398.5 268.4h0M206.5 395.4h0M358.5 377.4h0M472.5 106.4h0M519.5 82h0M523.5 86.4h0M528.5 93h0M104.5 111.4h0M110.5 113.6h0M137.5 104.4h0M142.5 106h0M320.5 98.5h0M222.5 84h0M329.5 103.4h0M296.5 64.4h0M420.5 71.6h0M286.5 119.9h0M200.5 122.7h0M232.5 127.3h0M316.5 89.3h0M297.5 120.5h0M275.5 96.4h0M388.5 112.6h0M284.5 122.8h0M153.5 101h0M191.5 118.6h0M312.5 108.9h0M182.5 100.1h0M375.5 91h0M204.5 124.6h0M409.5 122.8h0M314.5 105.4h0M163.5 134.7h0M370.5 94.9h0M313.5 105.6h0M385.5 85.7h0M275.5 122.5h0M181.5 103.2h0M353.5 103.6h0M372.5 123.1h0M426.5 119.1h0M326.5 82h0M268.5 105.7h0M180.5 123.5h0M303.5 112.4h0M232.5 129.3h0M407.5 91.8h0M372.5 111.8h0M373.5 120.7h0M425.5 50.7h0M354.5 83.6h0M367.5 123.3h0M304.5 121.1h0M332.5 124.2h0M210.5 122.4h0M274.5 84.4h0M384.5 93.9h0M355.5 114.2h0M222.5 127.5h0M347.5 121h0M412.5 116.3h0M286.5 91.8h0M221.5 130.2h0M182.5 41.2h0M218.5 119.3h0M354.5 79.7h0M279.5 124.5h0M385.5 102.8h0M408.5 122.8h0M347.5 91.6h0M162.5 130.3h0M337.5 64.5h0M227.5 106.4h0M194.5 102.6h0M391.5 114.1h0M363.5 123.9h0M362.5 111.7h0M436.5 117.6h0M323.5 65.9h0M180.5 127.5h0M438.5 125.9h0M349.5 46.4h0M303.5 85.6h0M281.5 122.8h0M297.5 113.7h0M322.5 120.1h0M279.5 116.5h0M341.5 113.1h0M200.5 121.1h0M419.5 90.1h0M258.5 114.5h0M192.5 129.5h0M187.5 129h0M185.5 130.2h0M252.5 117.3h0M185.5 128.4h0M424.5 119.9h0M314.5 84.4h0M317.5 119.3h0M278.5 91.8h0M156.5 130.3h0M175.5 117.9h0M391.5 117.8h0M410.5 118.9h0M216.5 115.6h0M201.5 70.5h0M316.5 80.4h0M241.5 112.5h0M165.5 104.4h0M209.5 86.6h0M202.5 117.5h0M422.5 119h0M287.5 121.3h0M322.5 93.6h0M187.5 115.3h0M313.5 124.6h0M281.5 115h0M173.5 129.4h0M299.5 116.8h0M428.5 55.8h0M223.5 58.1h0M335.5 103.8h0M150.5 113.6h0M216.5 122.6h0M276.5 123.4h0M410.5 124.4h0M391.5 119.9h0M135.5 141.9h0M304.5 60.8h0M155.5 119.2h0M271.5 124.3h0M296.5 116.3h0M324.5 73.5h0M299.5 107.3h0M396.5 123.9h0M330.5 90.9h0M314.5 120.1h0M405.5 122.9h0M253.5 116.3h0M180.5 116.1h0M371.5 110h0M157.5 130.9h0M424.5 108.4h0M366.5 62.7h0M287.5 126.2h0M226.5 126.6h0M187.5 117.9h0M251.5 62.4h0M345.5 74.2h0M305.5 91.7h0M351.5 96.7h0M422.5 88.5h0M299.5 102.1h0M358.5 94.3h0M359.5 66.5h0M353.5 115.4h0M247.5 117.9h0M235.5 117.6h0M339.5 123.8h0M368.5 94.5h0M335.5 126h0M255.5 88.6h0M195.5 124.6h0M140.5 129.3h0M339.5 118.8h0M263.5 111.3h0M330.5 113.7h0M223.5 86.1h0M224.5 114.8h0M388.5 85.6h0M251.5 110.3h0M435.5 123.7h0M314.5 123.8h0M200.5 128.4h0M406.5 115.1h0M166.5 86.4h0M310.5 111.5h0M178.5 118.5h0M131.5 74.2h0M277.5 90.5h0M167.5 109.8h0M285.5 118.4h0M271.5 111.4h0M271.5 127.6h0M371.5 125.2h0M262.5 126.9h0M421.5 117.9h0M414.5 82.7h0M196.5 69.9h0M340.5 100.4h0M275.5 123.7h0M140.5 131.4h0M265.5 94.8h0M339.5 124.7h0M343.5 79h0M327.5 78.7h0M427.5 121.8h0M310.5 95.9h0M205.5 122.4h0M170.5 130h0M400.5 90.6h0M346.5 114.8h0M340.5 103h0M336.5 95.3h0M222.5 110.2h0M273.5 110h0M369.5 92.7h0M397.5 112.3h0M329.5 99.6h0M152.5 130.8h0M348.5 123.8h0M246.5 124.4h0M270.5 95h0M262.5 125.3h0M153.5 133.3h0M257.5 125.7h0M145.5 138.8h0M414.5 123.6h0M172.5 132.6h0M249.5 76.3h0M184.5 44.4h0M370.5 58.2h0M225.5 116.6h0M338.5 105.7h0M400.5 74.8h0M179.5 132.8h0M282.5 114.4h0M185.5 85.1h0M394.5 73.2h0M193.5 126.1h0M333.5 90.1h0M224.5 121.7h0M383.5 104.7h0M359.5 94.6h0M391.5 76h0M385.5 121h0M209.5 101.9h0M208.5 121.8h0M232.5 126.2h0M334.5 114.2h0M324.5 95h0M292.5 78.4h0M357.5 47h0M195.5 129.1h0M303.5 109.2h0M337.5 65.3h0M196.5 66.2h0M212.5 83.6h0M394.5 98h0M309.5 101.6h0M199.5 80.9h0M316.5 83.9h0M502.5 133.5h0M386.5 111.7h0M382.5 108.3h0M429.5 103.6h0M172.5 114.5h0M212.5 113.6h0M493.5 125.7h0M260.5 112.9h0M136.5 127.5h0M280.5 117.6h0M361.5 108.1h0M525.5 135h0M401.5 117.6h0M276.5 110.5h0M420.5 116.6h0M431.5 112.2h0M474.5 117.1h0M486.5 129h0M470.5 128.5h0M159.5 117.4h0M142.5 126.3h0M417.5 113h0M302.5 110.6h0M200.5 116.2h0M493.5 128.1h0M467.5 120.5h0M146.5 121.9h0M118.5 127.9h0M312.5 116.3h0M246.5 126.3h0M153.5 121.8h0M232.5 107.6h0M513.5 138.3h0M490.5 126.6h0M312.5 104h0M171.5 114.8h0M246.5 109.6h0M428.5 113.1h0M320.5 111.7h0M453.5 112.3h0M423.5 114.9h0M528.5 134.8h0M261.5 110.8h0M290.5 118h0M314.5 114.3h0M191.5 118.5h0M500.5 130.2h0M220.5 127h0M368.5 107h0M422.5 111.9h0M339.5 109.7h0M290.5 97.6h0M213.5 120.2h0M488.5 128.4h0M478.5 123.2h0M465.5 126.1h0M334.5 110.1h0M323.5 109.6h0M489.5 129.4h0M368.5 110.5h0M196.5 115.1h0M283.5 107.8h0M429.5 120.7h0M101.5 134.9h0M404.5 117.4h0M407.5 106.9h0M148.5 125.9h0M242.5 117.1h0M432.5 111h0M298.5 107h0M349.5 108.1h0M412.5 106h0M268.5 109.3h0M195.5 114.2h0M298.5 108.4h0M382.5 107.6h0M266.5 108.9h0M384.5 102.9h0M447.5 119.1h0M114.5 128.9h0M505.5 128h0M533.5 138.1h0M338.5 117.1h0M289.5 106h0M319.5 111.3h0M422.5 117.4h0M357.5 108.2h0M440.5 104.6h0M103.5 133.4h0M523.5 128.4h0M293.5 116.3h0M327.5 115.7h0M504.5 127.3h0M301.5 114.5h0M433.5 111.4h0M364.5 103h0M241.5 105.5h0M292.5 114.4h0M99.5 131.1h0M116.5 134.6h0M211.5 107.4h0M256.5 103.2h0M528.5 134.2h0M134.5 127.5h0M449.5 110.9h0M457.5 123.9h0M161.5 124.3h0M324.5 115.3h0M346.5 103.1h0M193.5 114.2h0M409.5 111.6h0M479.5 123.5h0M481.5 128.2h0M312.5 108.6h0M117.5 129.7h0M501.5 126h0M388.5 113.6h0M368.5 116.9h0M149.5 112.4h0M113.5 132.7h0M326.5 118.8h0M422.5 109.5h0M119.5 131.6h0M509.5 131.9h0M451.5 116.3h0M281.5 111.8h0M400.5 103.3h0M378.5 112.9h0M440.5 118.9h0M334.5 118.2h0M476.5 120.4h0M119.5 131.8h0M384.5 93.6h0M119.5 132.7h0M140.5 123.5h0M121.5 133.8h0M344.5 103h0M396.5 100.6h0M324.5 114.9h0M365.5 116.2h0M227.5 107.2h0M311.5 113.1h0M362.5 114.4h0M347.5 107.8h0M472.5 125.4h0M107.5 130.2h0M135.5 128.2h0M215.5 113.1h0M415.5 115.5h0M166.5 126.7h0M404.5 116.4h0M212.5 114h0M286.5 100.3h0M440.5 116.9h0M178.5 120.8h0M151.5 122.3h0M223.5 101.6h0M388.5 108.6h0M430.5 99h0M176.5 125.5h0M238.5 117h0M408.5 104.1h0M530.5 138h0M233.5 104.5h0M492.5 129.4h0M430.5 106.5h0M102.5 129.1h0M502.5 129.3h0M391.5 116.4h0M112.5 129.6h0M399.5 107.6h0M270.5 113.2h0M234.5 116.3h0M311.5 108.4h0M103.5 137.7h0M421.5 111h0M442.5 104.5h0M223.5 103.8h0M529.5 131.6h0M189.5 123.4h0M246.5 111.2h0M237.5 113.6h0M219.5 107.1h0M288.5 109.3h0M518.5 131.1h0M204.5 120.9h0M310.5 102.8h0M250.5 113h0M279.5 114.9h0M279.5 115h0M225.5 112.5h0M219.5 110.8h0M458.5 116h0M233.5 107h0M224.5 117h0M338.5 117.6h0M344.5 107.8h0M531.5 134.2h0M508.5 129.5h0M316.5 106.3h0M511.5 131.3h0M178.5 113.5h0M457.5 122.9h0M319.5 108.9h0M458.5 116.7h0M147.5 133.5h0M316.5 111.7h0M335.5 114.9h0M466.5 127.1h0M451.5 125.5h0M166.5 123.9h0M119.5 127h0M137.5 120.7h0M158.5 114.7h0M470.5 115.8h0M192.5 106.6h0M344.5 115.4h0M514.5 130.8h0M289.5 111.6h0M121.5 135.6h0M435.5 107.9h0M410.5 111.6h0M340.5 112.5h0M102.5 134.1h0M268.5 104.8h0M380.5 108.4h0M388.5 105.3h0M144.5 121.4h0M305.5 114h0M480.5 121.1h0M480.5 129.8h0M230.5 118.5h0M362.5 104.5h0M255.5 115.3h0M239.5 118.3h0M352.5 121.9h0M305.5 110.6h0M119.5 131.5h0M416.5 116.4h0M219.5 120.3h0M484.5 113.3h0M358.5 108.1h0M292.5 112h0M523.5 134.3h0M459.5 122.8h0M475.5 118h0M525.5 130.3h0M168.5 128.6h0M115.5 134.7h0M106.5 131.5h0M150.5 126.9h0M302.5 110.4h0M245.5 118.9h0M210.5 113h0M374.5 108.9h0M176.5 128.8h0M334.5 109.3h0M156.5 116.8h0M423.5 119.7h0M241.5 118.1h0M283.5 111.4h0M179.5 120.5h0M446.5 113h0M133.5 120.2h0M241.5 119.8h0M316.5 105.9h0M468.5 121h0M348.5 113.5h0M414.5 101.8h0M527.5 138.5h0M456.5 111.1h0M183.5 116.1h0M430.5 107.4h0M496.5 129.7h0M292.5 109.1h0M294.5 120h0M184.5 107.1h0M518.5 130.3h0M238.5 97h0M304.5 118.2h0M487.5 128h0M485.5 123.9h0M331.5 113.2h0M156.5 130h0M181.5 122.3h0M239.5 107.8h0M325.5 120.5h0M389.5 106.7h0M121.5 132.1h0M453.5 109.9h0M353.5 108h0M334.5 110.3h0M171.5 109.9h0M452.5 116.4h0M480.5 124.6h0M460.5 120.3h0M430.5 110.6h0M494.5 126.8h0M380.5 114.2h0M213.5 118.8h0M319.5 116.7h0M425.5 106.3h0M500.5 133h0M220.5 111.4h0M389.5 109.2h0M486.5 125.8h0M177.5 109.3h0M429.5 106.1h0M393.5 110.6h0M516.5 134.3h0M121.5 131.8h0M191.5 117.8h0M534.5 130.9h0M265.5 110h0M349.5 110.5h0M272.5 127.1h0M461.5 123.9h0M401.5 104.6h0M485.5 124.2h0M383.5 107.3h0M463.5 126.3h0M247.5 112.2h0M148.5 136.2h0M365.5 94.2h0M342.5 101.2h0M290.5 113.5h0M429.5 112.7h0M366.5 105.6h0M312.5 119.3h0M234.5 107.5h0M117.5 136h0M250.5 111.1h0M328.5 114.8h0M207.5 106.3h0M116.5 131.1h0M504.5 122h0M349.5 108.1h0M420.5 115.8h0M367.5 105h0M387.5 105.3h0M405.5 107h0M139.5 124.2h0M199.5 112.6h0M383.5 102h0M116.5 129.6h0M260.5 108.8h0M494.5 127.8h0M285.5 110.1h0M341.5 100.8h0M526.5 135.4h0M472.5 129.5h0M247.5 118.2h0M325.5 114.9h0M112.5 129h0M351.5 109.2h0M284.5 116.1h0M321.5 109.1h0M451.5 109.3h0M389.5 112.7h0M103.5 132.9h0M449.5 111.2h0M488.5 134.6h0M523.5 133.4h0M215.5 116.4h0M128.5 122.7h0M439.5 106.8h0M484.5 129.3h0M187.5 120.3h0M119.5 134.3h0M124.5 125.6h0M464.5 125h0M458.5 115.5h0M499.5 128.5h0M376.5 111.7h0M343.5 107h0M350.5 91.2h0M286.5 110.8h0M353.5 98.2h0M99.5 135h0M503.5 129.8h0M331.5 108h0M169.5 120.8h0M317.5 110.6h0M510.5 133.5h0M139.5 121.1h0M500.5 133h0M263.5 102.1h0M372.5 111h0M105.5 133.8h0M163.5 115.8h0M165.5 131.8h0M105.5 135.3h0M363.5 112.1h0M337.5 108.3h0M438.5 110h0M127.5 129.2h0M490.5 131.3h0M238.5 108.1h0M412.5 107h0M396.5 111.8h0M498.5 129.8h0M169.5 112.9h0M292.5 120.3h0M126.5 130.3h0M324.5 119.3h0M191.5 116h0M277.5 120.3h0M211.5 105.2h0M283.5 118.6h0M349.5 113.4h0M442.5 114.5h0M454.5 114.8h0M391.5 117.9h0M497.5 128.4h0M250.5 117.7h0M523.5 133.1h0M132.5 130.9h0M400.5 117.4h0M519.5 131.8h0M303.5 115.5h0M530.5 137.3h0M473.5 128h0M200.5 114.6h0M353.5 114.8h0M247.5 123.2h0M162.5 119.8h0M255.5 110.8h0M224.5 106.3h0M353.5 110.3h0M523.5 136.4h0M357.5 111.2h0M418.5 118.1h0M188.5 119h0M413.5 111.7h0M291.5 113.8h0M483.5 128.5h0M314.5 102.4h0M446.5 126.7h0M332.5 123.3h0M149.5 128.3h0M296.5 120.3h0M357.5 113.5h0M388.5 119.5h0M347.5 122.5h0M387.5 117h0M289.5 123.8h0M381.5 116.8h0M320.5 125.9h0M513.5 134.4h0M194.5 121.7h0M321.5 119.9h0M312.5 126.8h0M403.5 116.8h0M185.5 120.8h0M252.5 126.9h0M260.5 119h0M207.5 119.1h0M339.5 116.7h0M237.5 120.9h0M415.5 118.2h0M361.5 118.5h0M498.5 131.8h0M416.5 115.5h0M208.5 122.8h0M288.5 115.3h0M382.5 118.9h0M182.5 129.1h0M308.5 114h0M384.5 112.3h0M353.5 124.2h0M179.5 129.8h0M250.5 120.1h0M250.5 115.7h0M321.5 119h0M237.5 120.3h0M436.5 124.5h0M510.5 142.1h0M156.5 126.2h0M512.5 134.6h0M225.5 121.7h0M360.5 114.5h0M427.5 125.6h0M279.5 128.4h0M435.5 125.9h0M191.5 124.2h0M150.5 135.5h0M130.5 137.7h0M226.5 117.6h0M256.5 126.5h0M265.5 127.4h0M231.5 124.1h0M302.5 126.6h0M300.5 117.4h0M346.5 120.3h0M237.5 117.1h0M240.5 117.6h0M242.5 118.1h0M416.5 123.7h0M455.5 122.5h0M348.5 123.5h0M434.5 118.9h0M387.5 116.3h0M430.5 125.2h0M382.5 112.9h0M453.5 124.6h0M425.5 115.6h0M429.5 113.5h0M372.5 117.8h0M213.5 122.5h0M421.5 122.4h0M157.5 137.6h0M284.5 119.4h0M215.5 128.4h0M203.5 124.6h0M165.5 128.8h0M323.5 121h0M372.5 118.1h0M418.5 111.9h0M142.5 134h0M325.5 125h0M432.5 120.7h0M380.5 114.1h0M245.5 125.2h0M340.5 117.9h0M183.5 129.6h0M267.5 121.7h0M348.5 119.9h0M271.5 121.1h0M134.5 133.9h0M392.5 120.5h0M281.5 121.7h0M158.5 135h0M164.5 133.5h0M163.5 136.3h0M205.5 124.6h0M194.5 122.9h0M277.5 124.2h0M221.5 123.5h0M137.5 142.1h0M214.5 118h0M271.5 123.3h0M221.5 127.6h0M204.5 124.4h0M347.5 121.9h0M446.5 128.3h0M186.5 126.2h0M195.5 128.4h0M159.5 129.5h0M298.5 127.5h0M502.5 138.5h0M381.5 118.8h0M371.5 120h0M205.5 128.6h0M348.5 115.7h0M334.5 114.9h0M131.5 133.5h0M525.5 137.1h0M274.5 128h0M353.5 125.7h0M530.5 137.4h0M188.5 124.7h0M325.5 126.5h0M190.5 128.1h0M298.5 124.4h0M152.5 134.1h0M323.5 126.3h0M333.5 183.2h0M408.5 227.6h0M231.5 215.2h0M322.5 191.7h0M239.5 215.9h0M281.5 194.3h0M258.5 202.2h0M304.5 181.4h0M333.5 210.9h0M284.5 182.4h0M402.5 195.6h0M374.5 181h0M226.5 184.1h0M221.5 208.1h0M303.5 201.1h0M337.5 176.3h0M360.5 194h0M401.5 230.7h0M265.5 177.5h0M248.5 190.2h0M261.5 177.8h0M361.5 207.3h0M225.5 192.3h0M403.5 231.4h0M339.5 177h0M376.5 195.1h0M253.5 190h0M306.5 183.8h0M307.5 189.3h0M341.5 182h0M296.5 180.1h0M251.5 216.3h0M349.5 212.2h0M292.5 216.5h0M357.5 228.5h0M408.5 235.1h0M309.5 210.8h0M295.5 179.7h0M384.5 177.5h0M345.5 195.3h0M277.5 181.2h0M366.5 197.8h0M321.5 209.1h0M340.5 189.5h0M391.5 206.4h0M352.5 194.6h0M323.5 190.5h0M333.5 196.1h0M228.5 223.8h0M389.5 211.7h0M280.5 208.5h0M348.5 181.3h0M334.5 202.4h0M297.5 177.3h0M294.5 240.8h0M295.5 218.2h0M378.5 193.9h0M354.5 215h0M256.5 186.7h0M342.5 185.3h0M241.5 179.6h0M365.5 188.7h0M327.5 179.4h0M312.5 220.2h0M230.5 204.7h0M354.5 236.9h0M231.5 230.9h0M399.5 179.1h0M221.5 193.8h0M392.5 182h0M246.5 192.5h0M365.5 187.6h0M411.5 208h0M340.5 193h0M279.5 202h0M323.5 177.7h0M248.5 227.7h0M273.5 180.2h0M353.5 182.5h0M211.5 197.6h0M238.5 219.3h0M322.5 199.5h0M243.5 189.4h0M413.5 184.9h0M344.5 195.9h0M354.5 197.5h0M333.5 182.3h0M376.5 202h0M365.5 228h0M221.5 201.2h0M242.5 194.7h0M262.5 183.2h0M333.5 195.8h0M371.5 186.3h0M209.5 205.1h0M239.5 186.3h0M409.5 195.4h0M321.5 227.5h0M235.5 234.4h0M285.5 185.6h0M237.5 206.6h0M285.5 238.1h0M374.5 177h0M325.5 218.1h0M331.5 233.6h0M384.5 214.3h0M344.5 233.8h0M296.5 190.5h0M323.5 183.7h0M224.5 229h0M404.5 210.2h0M232.5 199.5h0M264.5 176.1h0M376.5 215h0M382.5 184.9h0M237.5 217.8h0M378.5 179.4h0M301.5 204.1h0M246.5 203.6h0M267.5 192.6h0M361.5 193.3h0M402.5 216h0M228.5 237h0M341.5 217.8h0M295.5 179.4h0M322.5 192.5h0M383.5 210.9h0M402.5 206.5h0M387.5 187.4h0M295.5 186.8h0M301.5 207.3h0M315.5 188.9h0M243.5 189h0M241.5 177.3h0M375.5 222.1h0M224.5 185.4h0M296.5 181.7h0M222.5 243.6h0M307.5 177.7h0M217.5 180.8h0M307.5 183.3h0M239.5 187.8h0M325.5 179.5h0M274.5 178.8h0M370.5 208.1h0M235.5 222.9h0M267.5 192.4h0M348.5 178.1h0M391.5 194.2h0M317.5 187.8h0M328.5 183.7h0M318.5 176.5h0M364.5 219.1h0M386.5 186.2h0M242.5 192.7h0M348.5 200.9h0M379.5 215.8h0M390.5 203.5h0M227.5 178.3h0M286.5 178.8h0M381.5 173.4h0M391.5 187.3h0M277.5 185.4h0M273.5 182.7h0M326.5 187.3h0M413.5 179.5h0M288.5 174h0M247.5 185.5h0M206.5 180.5h0M309.5 177.1h0M395.5 171.5h0M340.5 175.6h0M227.5 178.2h0M310.5 179.4h0M250.5 184.8h0M210.5 187.7h0M418.5 186.8h0M297.5 190.9h0M269.5 192.1h0M266.5 179.9h0M326.5 174h0M333.5 179.2h0M352.5 186.3h0M292.5 179.2h0M239.5 169h0M414.5 187.5h0M234.5 188.5h0M308.5 171.2h0M232.5 193.9h0M215.5 187.6h0M258.5 167.8h0M378.5 172.5h0M409.5 181.7h0M361.5 190.1h0M244.5 180.1h0M276.5 179.4h0M323.5 186.2h0M283.5 186.7h0M393.5 185.2h0M396.5 187.6h0M268.5 183.1h0M237.5 185.4h0M208.5 182.4h0M314.5 178.6h0M290.5 190.9h0M346.5 176.7h0M293.5 184.2h0M414.5 183.3h0M285.5 181.5h0M371.5 181.2h0M367.5 186.9h0M311.5 196.8h0M300.5 189.9h0M333.5 190.6h0M278.5 175.8h0M342.5 175.4h0M226.5 180.4h0M389.5 178.6h0M408.5 196.8h0M381.5 186.1h0M227.5 172.3h0M344.5 175.9h0M343.5 189.3h0M342.5 178.7h0M292.5 183.8h0M404.5 180.7h0M221.5 183.9h0M243.5 183.9h0M278.5 178.5h0M204.5 183.9h0M247.5 185.3h0M325.5 187.7h0M242.5 189h0M292.5 190.4h0M281.5 190.6h0M263.5 174h0M359.5 178.7h0M254.5 176.5h0M267.5 183.3h0M343.5 189.8h0M259.5 191.2h0M269.5 185.2h0M359.5 180.5h0M402.5 185.9h0M410.5 187.3h0M242.5 188.8h0M409.5 183.5h0M240.5 185.8h0M402.5 181.7h0M249.5 185.3h0M380.5 177.7h0M411.5 173.9h0M377.5 174.1h0M291.5 182h0M222.5 186.6h0M248.5 186.9h0M378.5 181.5h0M350.5 183.1h0M401.5 178.2h0M270.5 173.1h0M323.5 177.8h0M275.5 185.5h0M246.5 174.6h0M306.5 184.8h0M236.5 182.1h0M220.5 183.3h0M247.5 188.7h0M250.5 170.8h0M223.5 180.6h0M289.5 181.4h0M213.5 184.5h0M398.5 179.9h0M365.5 186.3h0M223.5 196.5h0M411.5 177.6h0M304.5 178.4h0M389.5 170h0M213.5 173.4h0M242.5 185h0M279.5 187.8h0M364.5 188.5h0M377.5 182.1h0M368.5 183.4h0M268.5 187.2h0M280.5 174.5h0M324.5 179.1h0M269.5 183.3h0M273.5 185.5h0M250.5 185.4h0M119.5 230.1h0M525.5 293.2h0M442.5 198.6h0M148.5 214.6h0M451.5 219.8h0M155.5 249.9h0M101.5 265.4h0M506.5 257.5h0M480.5 208.1h0M509.5 272.7h0M516.5 214.2h0M108.5 253.7h0M106.5 247.2h0M144.5 266.8h0M190.5 228.9h0M484.5 255.9h0M533.5 251h0M138.5 232.9h0M422.5 206.3h0M135.5 226.6h0M128.5 214.3h0M461.5 222.6h0M472.5 221.1h0M534.5 246.1h0M169.5 270.6h0M152.5 340.8h0M112.5 223h0M140.5 224.7h0M456.5 254.9h0M463.5 251.2h0M103.5 239.9h0M468.5 226.1h0M502.5 216.3h0M497.5 287h0M462.5 253.3h0M162.5 227.2h0M109.5 301.9h0M166.5 284.9h0M453.5 213.1h0M100.5 252.8h0M503.5 219.6h0M469.5 267.2h0M488.5 272.6h0M502.5 210.2h0M118.5 216.5h0M467.5 215.4h0M519.5 265h0M524.5 283.7h0M488.5 208h0M434.5 241.3h0M531.5 221.9h0M528.5 270.9h0M503.5 260h0M185.5 227.4h0M136.5 223.1h0M472.5 266.4h0M465.5 268.4h0M421.5 191.1h0M118.5 227h0M461.5 205.2h0M148.5 251.1h0M485.5 206h0M475.5 248.7h0M100.5 269.3h0M206.5 188h0M454.5 219.3h0M110.5 252.7h0M138.5 256.5h0M486.5 228.5h0M108.5 246.9h0M130.5 266.2h0M446.5 207.9h0M509.5 211.9h0M490.5 239.1h0M431.5 215.6h0M519.5 234.3h0M163.5 204.1h0M503.5 254.8h0M454.5 232.8h0M141.5 205.7h0M435.5 203h0M492.5 213.7h0M521.5 255.9h0M151.5 234.4h0M113.5 257.8h0M483.5 238.3h0M101.5 224.6h0M487.5 227.6h0M171.5 230.2h0M472.5 240.9h0M106.5 233.4h0M460.5 206.6h0M521.5 271.5h0M155.5 200.8h0M185.5 211.2h0M188.5 193.5h0M163.5 261.2h0M474.5 218h0M99.5 317.5h0M470.5 227.4h0M151.5 284.1h0M434.5 221.8h0M512.5 218h0M526.5 222.6h0M143.5 275.9h0M474.5 239.4h0M519.5 247.9h0M439.5 221.3h0M164.5 264.6h0M105.5 255.2h0M527.5 222.9h0M120.5 214.6h0M135.5 226.1h0M530.5 240.9h0M491.5 202.6h0M151.5 253.8h0M466.5 229.8h0M458.5 286.1h0M138.5 226.1h0M166.5 237.2h0M112.5 287.7h0M153.5 199.1h0M493.5 304.2h0M473.5 243.4h0M482.5 288.8h0M111.5 247.1h0M111.5 218.5h0M119.5 258.8h0M472.5 286.1h0M114.5 266.9h0M506.5 289.1h0M118.5 331.5h0M121.5 251.7h0M461.5 240.4h0M480.5 256.5h0M145.5 274.9h0M114.5 236.7h0M106.5 236.8h0M101.5 244.9h0M500.5 242.4h0M145.5 235.1h0M526.5 237.7h0M485.5 228h0M521.5 275.4h0M533.5 221.3h0M128.5 213.7h0M444.5 215.7h0M146.5 239.4h0M511.5 289.9h0M111.5 221.7h0M525.5 212.6h0M174.5 200.7h0M491.5 214.4h0M113.5 290.6h0M468.5 263.2h0M194.5 204h0M524.5 239.8h0M439.5 234.8h0M126.5 207.2h0M515.5 294.4h0M161.5 203.4h0M99.5 243.8h0M201.5 257.6h0M114.5 248.6h0M146.5 218.4h0M515.5 229.5h0M496.5 313.2h0M132.5 242.9h0M429.5 227.1h0M105.5 228h0M519.5 218.1h0M507.5 234.7h0M142.5 220.1h0M156.5 273.7h0M151.5 230.9h0M466.5 210.6h0M517.5 219.4h0M111.5 244.5h0M150.5 232h0M162.5 217.7h0M477.5 236h0M125.5 235.7h0M461.5 238.5h0M485.5 219.5h0M128.5 262.5h0M492.5 286.2h0M100.5 256.1h0M103.5 285.4h0M170.5 255.3h0M162.5 213.9h0M503.5 239.4h0M127.5 243.2h0M507.5 253.6h0M448.5 211.9h0M163.5 193.7h0M436.5 202.7h0M127.5 224.5h0M425.5 196.1h0M417.5 194.1h0M110.5 214.2h0M492.5 236.5h0M141.5 236.6h0M528.5 267.2h0M112.5 247.8h0M481.5 203.6h0M495.5 213.3h0M158.5 230.3h0M459.5 262.4h0M141.5 216.9h0M530.5 222.2h0M190.5 215.1h0M113.5 298.1h0M498.5 276.5h0M533.5 237.9h0M436.5 271.8h0M432.5 229h0M471.5 202.2h0M150.5 200h0M126.5 258.8h0M129.5 288.5h0M483.5 208.4h0M140.5 227.5h0M460.5 295.6h0M434.5 204.4h0M99.5 245.6h0M490.5 209.8h0M165.5 265.7h0M517.5 227.6h0M118.5 231.4h0M432.5 238h0M465.5 285.2h0M477.5 207.4h0M498.5 313.5h0M156.5 208.6h0M126.5 322.1h0M127.5 294.8h0M138.5 227.8h0M119.5 327h0M114.5 274h0M534.5 225.9h0M480.5 217.6h0M134.5 253.2h0M464.5 238.5h0M181.5 216.1h0M133.5 247.9h0M477.5 209.7h0M119.5 248.9h0M116.5 208.6h0M143.5 204.1h0M183.5 223.6h0M125.5 215.9h0M133.5 225.4h0M457.5 286.5h0M460.5 295.2h0M522.5 264h0M100.5 282.8h0M488.5 313.1h0M467.5 248.6h0M519.5 279.1h0M105.5 243.2h0M456.5 237.1h0M438.5 225h0M485.5 280.2h0M116.5 338.3h0M129.5 224.6h0M490.5 202.8h0M519.5 226.2h0M186.5 204.7h0M106.5 286.2h0M513.5 252.4h0M437.5 295.3h0M104.5 281.4h0M518.5 263.1h0M104.5 238.7h0M442.5 231.1h0M526.5 282.6h0M137.5 263.2h0M146.5 225.4h0M113.5 288.1h0M140.5 220.2h0M435.5 233.6h0M499.5 245.6h0M528.5 296.7h0M156.5 233.7h0M196.5 215.1h0M497.5 285.4h0M445.5 247.9h0M439.5 224.3h0M514.5 268.5h0M100.5 245.2h0M460.5 203.5h0M168.5 226.5h0M103.5 224.9h0M165.5 195.3h0M152.5 215.4h0M472.5 279.4h0M527.5 211.2h0M449.5 246.5h0M528.5 217h0M107.5 247.9h0M498.5 287.2h0M103.5 251.3h0M102.5 235.2h0M496.5 234.6h0M120.5 224.5h0M136.5 270.7h0M524.5 246.4h0M494.5 290.4h0M169.5 203.6h0M528.5 243.9h0M513.5 282.3h0M122.5 238.5h0M137.5 215.5h0M485.5 212.5h0M187.5 196.4h0M496.5 240.4h0M485.5 230.7h0M104.5 308.9h0M169.5 211.1h0M514.5 242.6h0M465.5 227.6h0M437.5 267.2h0M114.5 239.8h0M130.5 246.9h0M132.5 324.4h0M532.5 222.7h0M440.5 242.3h0M176.5 217.8h0M490.5 245.8h0M496.5 252.6h0M446.5 237h0M112.5 229.9h0M158.5 202.4h0M417.5 192.7h0M113.5 240.9h0M517.5 280.8h0M107.5 254.9h0M144.5 251.7h0M162.5 198.7h0M111.5 250.9h0M444.5 270.1h0M137.5 213.7h0M131.5 229.8h0M129.5 254.8h0M140.5 238.5h0M475.5 231.9h0M465.5 209.3h0M429.5 229.6h0M141.5 216.2h0M523.5 259.2h0M533.5 213.5h0M154.5 208.8h0M134.5 211.2h0M502.5 285.3h0M136.5 230.3h0M165.5 233.9h0M488.5 267h0M464.5 263.9h0M496.5 275.8h0M442.5 225.3h0M533.5 253.3h0M486.5 203.6h0M453.5 250.1h0M109.5 260.2h0M484.5 249.7h0M473.5 224.8h0M178.5 253.9h0M528.5 285.8h0M481.5 250.9h0M442.5 236.4h0M507.5 248.2h0M136.5 216.7h0M124.5 252.8h0M455.5 243h0M489.5 212.2h0M139.5 216.2h0M527.5 233.7h0M140.5 308.2h0M499.5 263.1h0M494.5 273.6h0M424.5 194.2h0M521.5 232h0M108.5 290.5h0M129.5 215.2h0M148.5 215.3h0M149.5 246.9h0M105.5 237.5h0M442.5 215.1h0M417.5 198.4h0M484.5 239.5h0M123.5 230h0M123.5 289h0M505.5 219.4h0M136.5 225.3h0M529.5 230.5h0M505.5 218.9h0M133.5 267.6h0M438.5 238.3h0M477.5 240.7h0M484.5 250.5h0M429.5 204.1h0M492.5 242.6h0M490.5 272.3h0M494.5 263h0M476.5 233.3h0M121.5 348.5h0M530.5 243.9h0M469.5 241.4h0M162.5 209.1h0M504.5 234.6h0M451.5 303.6h0M127.5 256.4h0M514.5 248.3h0M429.5 223.4h0M525.5 225.2h0M178.5 280.5h0M505.5 213.2h0M505.5 326.3h0M107.5 257.1h0M450.5 228.4h0M460.5 214.9h0M491.5 234.7h0M173.5 281.5h0M189.5 249h0M507.5 214h0M100.5 277.7h0M136.5 273.9h0M465.5 230h0M129.5 226.1h0M448.5 270.5h0M484.5 284.5h0M450.5 263.2h0M523.5 229h0M172.5 249.5h0M453.5 266.4h0M447.5 221.7h0M131.5 254h0M497.5 219.6h0M207.5 205h0M432.5 234.8h0M102.5 216.7h0M507.5 261.8h0M145.5 337.1h0M496.5 288.7h0M520.5 299.4h0M185.5 242.5h0M137.5 242.5h0M178.5 236.4h0M491.5 244.3h0M137.5 238.9h0M100.5 251.6h0M154.5 197.7h0M445.5 324h0M139.5 259.3h0M473.5 289h0M159.5 228.3h0M203.5 196.8h0M152.5 229.5h0M516.5 214.3h0M166.5 263h0M455.5 218.4h0M501.5 266.1h0M470.5 253.5h0M462.5 242.5h0M423.5 211.4h0M111.5 222.8h0M490.5 252.6h0M520.5 227h0M474.5 227.2h0M428.5 219.9h0M534.5 266.7h0M531.5 242.6h0M495.5 299.1h0M100.5 211h0M172.5 230.6h0M129.5 230.2h0M462.5 239.7h0M531.5 316.1h0M99.5 278.2h0M147.5 225.2h0M500.5 262.9h0M112.5 331.6h0M495.5 224.5h0M533.5 410.3h0M450.5 389.4h0M436.5 437.6h0M111.5 425.9h0M108.5 258.6h0M534.5 380.3h0M527.5 292.9h0M529.5 256h0M482.5 439.7h0M165.5 353.3h0M461.5 378.2h0M449.5 375.9h0M462.5 434.7h0M522.5 265.2h0M527.5 431.7h0M446.5 390.8h0M134.5 301.3h0M467.5 440.8h0M108.5 318.5h0M193.5 295.7h0M468.5 324.1h0M481.5 281h0M505.5 333.5h0M480.5 334.7h0M473.5 382.2h0M492.5 284h0M166.5 379.6h0M479.5 289.4h0M464.5 332.9h0M480.5 258.6h0M118.5 344.7h0M526.5 277.3h0M105.5 441h0M105.5 395.3h0M117.5 385.4h0M154.5 297h0M176.5 361.3h0M532.5 338.9h0M486.5 432.1h0M439.5 258.9h0M527.5 281.1h0M467.5 308.9h0M446.5 298.1h0M480.5 370.8h0M180.5 376.1h0M135.5 323.7h0M466.5 425.2h0M467.5 262.2h0M437.5 298.7h0M139.5 372.3h0M478.5 346.4h0M486.5 374.3h0M111.5 277.9h0M463.5 276.8h0M439.5 349h0M107.5 346.6h0M493.5 366.5h0M187.5 292.6h0M179.5 316.9h0M182.5 357h0M492.5 371.8h0M436.5 422.9h0M523.5 286.9h0M163.5 315.9h0M440.5 331.5h0M105.5 375h0M103.5 300.2h0M528.5 375.3h0M468.5 407.1h0M446.5 383.9h0M521.5 294.8h0M533.5 401.9h0M121.5 397.1h0M102.5 260h0M114.5 434.6h0M169.5 371.7h0M129.5 276.8h0M188.5 267.1h0M189.5 357.4h0M470.5 364.4h0M107.5 268.6h0M106.5 271.3h0M464.5 355h0M513.5 407.1h0M532.5 432.1h0M465.5 404.8h0M177.5 260.8h0M107.5 319.8h0M495.5 286h0M145.5 296.2h0M439.5 407.3h0M111.5 291.2h0M101.5 313.3h0M451.5 294.6h0" stroke-width="5.4" stroke-linecap="round"/></g>
<path id="red" d="M98 193.1 99.5 193.2 103.4 191.3 108.3 189.9 111.1 190.9 116 187.7 120.2 184.9 123 183.9 125.1 180.1 130 175.5 135.6 172 139.8 168.2 144.7 166.1 151 166.1 155.2 160.8 160.1 156.3 166.4 155.9 172 150.7 179 147.5 184.6 145.4 191.6 144 195.8 141.2 200 138.4 205.6 138.9 209.8 139.7 215.2 137.8 220.6 138.6 229 139 236.2 140.2 244.6 142.8 255.4 144.6 262.6 147 269.8 148.8 278.2 148.8 284.2 147.4 291.4 147 298.6 147.8 308.2 149.8 317.8 151.6 325.8 148.3 333 147 340.2 146.2 348.6 147.6 359.4 145 371.4 143.4 382.2 142.6 388.2 139.4 394.2 141 406.2 141.4 409.8 142.8 413.4 140.4 419.4 144 426.6 149.4 430.2 147.8 436.2 150.1 443.2 153.9 454.4 159.1 458.6 158.8 461.7 155.7 468.4 159.5 474 163 479.6 162.3 486.6 167.5 493.6 167.9 502 173.5 508.3 179.5 520.2 184.7 527.2 189.9 533.5 193.1 535 193.2 538.9 191.3" fill="none" stroke="#f00" stroke-width="4.8" stroke-linejoin="round" stroke-linecap="butt"/>
</defs>
<path d="M99.5 37.5V442.5M208.5 37.5V442.5M317.5 37.5V442.5M426.5 37.5V442.5M535.5 37.5V442.5M644.5 37.5V442.5M752.5 37.5V442.5M861.5 37.5V442.5M970.5 37.5V442.5M99.5 74.5H970.5M99.5 126.5H970.5M99.5 177.5H970.5M99.5 229.5H970.5M99.5 281.5H970.5M99.5 332.5H970.5M99.5 384.5H970.5M99.5 435.5H970.5" fill="none" stroke="#b0b0b0" stroke-width="0.8"/>
<g clip-path="url(#ax)">
<use href="#pol"/><use href="#pol" x="435.5"/>
<use href="#c0"/><use href="#c1"/>
<use href="#c0" x="435"/><use href="#c1" x="436"/>
<use href="#red"/><use href="#red" x="435.5"/>
</g>
<path d="M99.5 442.5v5.3M208.5 442.5v5.3M317.5 442.5v5.3M426.5 442.5v5.3M535.5 442.5v5.3M644.5 442.5v5.3M752.5 442.5v5.3M861.5 442.5v5.3M970.5 442.5v5.3M99.5 74.5h-5.3M99.5 126.5h-5.3M99.5 177.5h-5.3M99.5 229.5h-5.3M99.5 281.5h-5.3M99.5 332.5h-5.3M99.5 384.5h-5.3M99.5 435.5h-5.3" fill="none" stroke="#000" stroke-width="0.8"/>
<rect x="99.5" y="37.5" width="871" height="405" fill="none" stroke="#000" stroke-width="0.8"/>
<g opacity="0.99"><g font-size="13.9"><text x="99.5" y="462" text-anchor="middle" textLength="28.9" lengthAdjust="spacingAndGlyphs">0.00</text><text x="208.5" y="462" text-anchor="middle" textLength="28.9" lengthAdjust="spacingAndGlyphs">0.25</text><text x="317.5" y="462" text-anchor="middle" textLength="28.9" lengthAdjust="spacingAndGlyphs">0.50</text><text x="426.5" y="462" text-anchor="middle" textLength="28.9" lengthAdjust="spacingAndGlyphs">0.75</text><text x="535.5" y="462" text-anchor="middle" textLength="28.9" lengthAdjust="spacingAndGlyphs">1.00</text><text x="644.5" y="462" text-anchor="middle" textLength="28.9" lengthAdjust="spacingAndGlyphs">1.25</text><text x="752.5" y="462" text-anchor="middle" textLength="28.9" lengthAdjust="spacingAndGlyphs">1.50</text><text x="861.5" y="462" text-anchor="middle" textLength="28.9" lengthAdjust="spacingAndGlyphs">1.75</text><text x="970.5" y="462" text-anchor="middle" textLength="28.9" lengthAdjust="spacingAndGlyphs">2.00</text><text x="88.4" y="79.5" text-anchor="end" textLength="49.6" lengthAdjust="spacingAndGlyphs">−0.150</text><text x="88.4" y="131.5" text-anchor="end" textLength="49.6" lengthAdjust="spacingAndGlyphs">−0.125</text><text x="88.4" y="182.5" text-anchor="end" textLength="49.6" lengthAdjust="spacingAndGlyphs">−0.100</text><text x="88.4" y="234.5" text-anchor="end" textLength="49.6" lengthAdjust="spacingAndGlyphs">−0.075</text><text x="88.4" y="286.5" text-anchor="end" textLength="49.6" lengthAdjust="spacingAndGlyphs">−0.050</text><text x="88.4" y="337.5" text-anchor="end" textLength="49.6" lengthAdjust="spacingAndGlyphs">−0.025</text><text x="88.4" y="389.5" text-anchor="end" textLength="37.2" lengthAdjust="spacingAndGlyphs">0.000</text><text x="88.4" y="440.5" text-anchor="end" textLength="37.2" lengthAdjust="spacingAndGlyphs">0.025</text></g>
<text x="534.2" y="482" font-size="13.9" text-anchor="middle" textLength="40.6" lengthAdjust="spacingAndGlyphs">Phase</text>
<text transform="translate(28.4 239.7) rotate(-90)" font-size="13.9" text-anchor="middle" textLength="86.2" lengthAdjust="spacingAndGlyphs">Δ Magnitude</text>
<text x="534.3" y="28.7" font-size="17.6" text-anchor="middle" textLength="232.6" lengthAdjust="spacingAndGlyphs">Light curve of ASCC 484768</text></g>
</svg>
</body></html>
